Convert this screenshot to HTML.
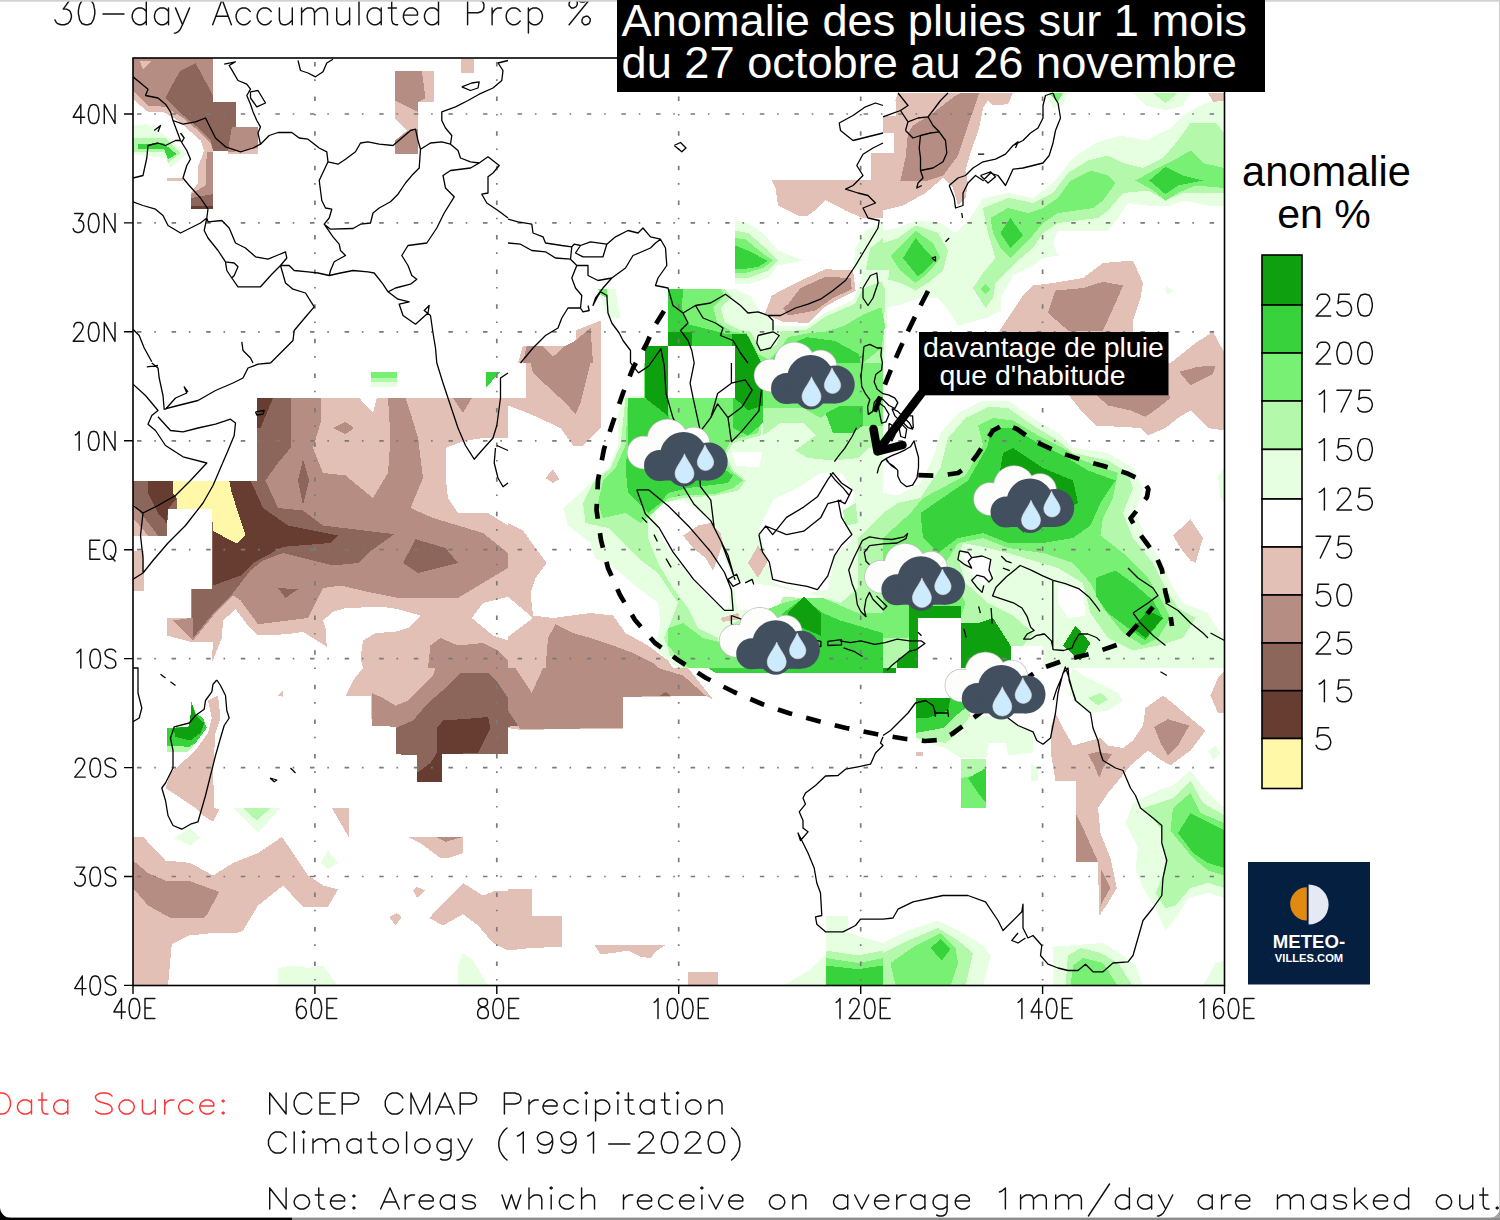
<!DOCTYPE html>
<html>
<head>
<meta charset="utf-8">
<title>Anomalie des pluies</title>
<style>
html,body{margin:0;padding:0;background:#fff;}
body{width:1500px;height:1220px;overflow:hidden;position:relative;font-family:"Liberation Sans",sans-serif;}
svg{position:absolute;left:0;top:0;display:block;}
text{font-family:"Liberation Sans",sans-serif;}
.b1{fill:#e2c0b6;}
.b2{fill:#b68d82;}
.b3{fill:#8c655b;}
.b4{fill:#673d32;}
.yl{fill:#fff8a8;}
.g1{fill:#e6ffe1;}
.g2{fill:#b4f9ab;}
.g3{fill:#78f073;}
.g4{fill:#37d23c;}
.g5{fill:#0fa00f;}
.w{fill:#fff;}
.coast{fill:none;stroke:#000;stroke-width:1.3;stroke-linejoin:round;}
.hs{fill:none;stroke:#111;stroke-width:1.45;stroke-linecap:round;stroke-linejoin:round;}
</style>
</head>
<body>
<svg width="1500" height="1220" viewBox="0 0 1500 1220">
<rect x="0" y="0" width="1500" height="1220" fill="#fff"/>

<defs><clipPath id="fr"><rect x="133" y="58" width="1091.5" height="927.5"/></clipPath></defs>
<!-- SHADING -->
<g id="shade" shape-rendering="crispEdges" clip-path="url(#fr)">
<path class="b1" d="M133 58L213 58L213 101.8L236.2 101.8L236.2 126.8L258 126.8L258 154.2L228 154.2L228 150.5L213 150.5L213 209.2L191 209.2L191 193L198 183L198.5 165.5L204.2 150.5L200.5 140.5L178 120.5L163 111.8L148 111.8L133 99.2Z"/>
<path class="b2" d="M133 58L213 58L213 101.8L236.2 101.8L236.2 126.8L258 126.8L258 148L233 151.8L213 150.5L210.5 143L198 130.5L183 118L165.5 106.8L148 105.5L133 90.5Z"/>
<path class="b1" d="M139.2 60.5L151.8 60.5L143 69.2Z"/>
<path class="b2" d="M206.8 151.8L213 151.8L213 209.2L191 209.2L191 194.2L205.5 185.5Z"/>
<path class="b3" d="M191 198L213 194.2L213 209.2L191 209.2Z"/>
<path class="b4" d="M191 205.5L213 205.5L213 209.2L191 209.2Z"/>
<path class="b3" d="M195.5 63L213 95.5L213 101.8L236.2 101.8L236.2 126.8L231.8 126.8L228 150.5L213 150.5L210.5 140.5L195.5 125.5L180.5 113L165.5 98L170.5 88L180.5 70.5Z"/>
<path class="g1" d="M133 125.5L148 124.2L165.5 135.5L186.8 154.2L170.5 168L165.5 158L133 154.2Z"/>
<path class="g2" d="M133 138L165.5 138L180.5 153L168 163L165.5 151.8L133 151.8Z"/>
<path class="g4" d="M138 144.2L163 143L176.8 154.2L168 159.2L164.2 149.2L138 149.2Z"/>
<path class="b1" d="M166.8 178L183 178L183 181L166.8 181ZM395 70.5L434.2 70.5L434.2 101.8L418 101.8L418 154.2L395 154.2Z"/>
<path class="b2" d="M395 70.5L421.8 70.5L425.5 98L418 101.8L418 111.8L395 100.5Z"/>
<path class="w" d="M395 118L406.8 130.5L395 140.5Z"/>
<path class="b2" d="M410.5 129.2L418 129.2L418 154.2L395 154.2L395 140.5Z"/>
<path class="b1" d="M461 59.2L473.5 59.2L473.5 72.5L461 72.5ZM771.8 180L870.5 180L870.5 153L883 153L883 218L863 218L845.5 210.5L825.5 200L818 208L808 215.5L798 215.5L778 205.5L775.5 188Z"/>
<path class="g1" d="M735 220.5L748 223L763 233L778 250.5L803 260.5L778 265.5L768 278L748 284.2L735 284.2Z"/>
<path class="g2" d="M735 230.5L748 233L765.5 248L778 260.5L768 270.5L748 278L735 278Z"/>
<path class="g3" d="M735 238L745.5 239.2L760.5 251.8L773 260.5L763 268L745.5 273L735 273Z"/>
<path class="g4" d="M735 245.5L748 250.5L768 261L758 266.8L743 269.2L735 269.2Z"/>
<path class="b1" d="M771.8 295.5L795.5 283L825.5 269.2L853 270.5L855.5 290.5L840.5 298L823 308L808 323L783 321.8L768 315.5L763 318L768 305.5Z"/>
<path class="b2" d="M788 304.2L800.5 288L825.5 276.8L850.5 278L851.8 289.2L833 298L815.5 310.5L788 315.5L783 308Z"/>
<path class="b1" d="M523 345.5L575.5 345.5L575.5 330.5L600.5 320.5L600.5 363L518 363Z"/>
<path class="b2" d="M526.8 345.5L541.8 345.5L553 356.8L565.5 345.5L575.5 340.5L590.5 328L593 363L523 363Z"/>
<path class="g1" d="M883 223L865.5 230.5L855.5 248L853 270L883 270Z"/>
<path class="g2" d="M883 238L870.5 248L865.5 270L883 270Z"/>
<path class="g1" d="M596.8 289.2L615.5 289.2L620.5 318L608 318L603 303Z"/>
<path class="g3" d="M598 289.2L606.8 289.2L608 298L601.8 295.5Z"/>
<path class="b1" d="M895.5 100.5L898 93L1013 93L1008 104.2L993 105.5L988 100.5L983 108L979.2 128L970.5 153L965.5 170.5L968 183L965.5 198L958 205.5L953 188L943 178L925.5 193L903 205.5L883 210.5L883 153L894.2 153L894.2 133L883 133L883 116.8L895.5 115.5Z"/>
<path class="b2" d="M913 125.5L933 113L955.5 95.5L960.5 93L979.2 93L965.5 133L958 155.5L943 175.5L928 180.5L900.5 180.5L905.5 158L908 133Z"/>
<path class="b1" d="M998 333L1023 295.5L1033 285.5L1053 283L1083 278L1103 263L1133 260.5L1143 283L1140.5 298L1133 320.5L1133 363L993 363Z"/>
<path class="b2" d="M1055.5 290.5L1083 288L1103 281.8L1123 285.5L1115.5 303L1103 330.5L1068 330.5L1048 313Z"/>
<path class="b1" d="M1170.5 363L1195.5 343L1213 331.8L1224.5 353L1224.5 363ZM1208 93L1224.5 93L1224.5 104.2L1213 101.8Z"/>
<path class="g1" d="M883 230.5L898 228L915.5 220.5L940.5 223L955.5 233L970.5 218L983 198L1008 193L1033 198L1053 183L1073 158L1095.5 143L1120.5 135.5L1145.5 140.5L1170.5 128L1183 115.5L1205.5 103L1224.5 100.5L1224.5 205.5L1208 205.5L1183 200.5L1170.5 205.5L1145.5 205.5L1128 203L1118 218L1108 230.5L1083 230.5L1058 230.5L1053 243L1058 255.5L1043 258L1033 265.5L1013 275.5L1000.5 298L1000.5 310.5L985.5 318L958 325.5L950.5 313L938 298L920.5 298L898 305.5L883 308ZM1133 93L1190.5 93L1183 105.5L1165.5 110.5L1145.5 105.5ZM1045.5 93L1068 93L1063 105.5L1053 108ZM1165.5 285.5L1173 290.5L1166.8 295.5Z"/>
<path class="g2" d="M883 243L898 238L915.5 225.5L938 233L948 250.5L943 270.5L928 283L915.5 290.5L900.5 283L883 278ZM983 208L1008 198L1033 203L1053 193L1068 173L1088 160.5L1108 155.5L1123 163L1143 168L1163 158L1178 140.5L1190.5 123L1215.5 123L1224.5 133L1224.5 193L1203 193L1183 193L1165.5 200.5L1148 190.5L1123 193L1108 210.5L1098 218L1058 223L1043 233L1033 248L1018 260.5L1008 270.5L995.5 283L993 298L985.5 308L973 288L983 273L995.5 258L988 233ZM1153 93L1178 93L1165.5 103Z"/>
<path class="g3" d="M890.5 255.5L915.5 230.5L933 243L940.5 258L928 273L915.5 283L900.5 270.5ZM990.5 218L1008 208L1028 213L1043 208L1058 198L1070.5 180.5L1090.5 170.5L1108 175.5L1115.5 183L1103 200.5L1093 208L1058 213L1043 223L1030.5 238L1010.5 258L1000.5 248L993 233ZM1135.5 180.5L1158 168L1178 158L1190.5 150.5L1203 163L1224.5 168L1224.5 188L1195.5 185.5L1178 193L1165.5 200.5L1153 190.5ZM980.5 289.2L985.5 284.2L990.5 289.2L985.5 294.2ZM1048 93L1063 93L1058 101.8Z"/>
<path class="g4" d="M903 258L915.5 238L928 253L935.5 260.5L918 276.8ZM1000.5 233L1010.5 218L1023 235.5L1010.5 248ZM1149.2 180.5L1165.5 166.8L1183 175.5L1203 180.5L1178 185.5L1165.5 194.2Z"/>
<path class="b1" d="M133 480.5L257.2 480.5L257.2 398L359.2 398L373 413L376.8 398L508 398L508 668L363 668L360.5 658L363 640.5L375.5 633L395.5 631.8L408 628L420.5 615.5L398 609.2L383 606.8L345.5 608L333 611.8L323 620.5L325.5 628L326.8 646.8L303 631.8L288 634.2L258 635.5L248 625.5L235.5 609.2L223 620.5L221.8 638L211.8 663L213 641.8L190.5 641.8L166.8 635.5L166.8 618L190.5 618L190.5 589.2L211.8 589.2L211.8 509.2L168 509.2L166.8 535.5L133 535.5ZM133 550.5L144.2 550.5L144.2 590.5L133 590.5Z"/>
<path class="w" d="M445.5 448L465.5 440.5L483 438L508 438L508 525.5L488 513L458 513L448 498L445.5 475.5ZM508 596.8L483 603L471.8 618L493 635.5L508 640.5Z"/>
<path class="b2" d="M257.2 398L320.5 398L320.5 423L313 448L323 473L345.5 475.5L373 498L388 473L390.5 438L388 398L405.5 398L410.5 413L418 438L423 478L410.5 508L433 518L483 533L508 553L508 568L483 583L458 598L398 598L373 593L340.5 585.5L323 588L308 618L258 624.2L240.5 600.5L233 595.5L215.5 613L193 640.5L173 620.5L190.5 618L190.5 589.2L211.8 589.2L211.8 509.2L168 509.2L166.8 535.5L133 535.5L133 480.5L257.2 480.5ZM428 668L430.5 645.5L440.5 638L458 645.5L483 643L498 650.5L508 660.5L508 668ZM453 398L471.8 398L463 413ZM333 428L345.5 421.8L354.2 428L345.5 434.2Z"/>
<path class="b3" d="M257.2 398L290.5 398L290.5 448L278 463L265.5 480.5L278 508L303 510.5L323 525.5L394.2 534.2L368 553L358 563L333 565.5L313 560.5L283 553L263 560.5L250.5 570.5L233 593L215.5 610.5L193 638L191.8 589.2L211.8 589.2L211.8 509.2L168 509.2L166.8 535.5L133 535.5L133 480.5L257.2 480.5ZM298 480.5L303 459.2L309.2 480.5L303 505.5ZM403 563L415.5 539.2L445.5 548L458 563L418 573ZM278 588L298 589.2L285.5 598Z"/>
<path class="b1" d="M133 518L148 535.5L133 535.5Z"/>
<path class="b2" d="M133 503L158 535.5L148 535.5L133 518Z"/>
<path class="b4" d="M229.2 480.5L250.5 480.5L263 508L288 525.5L338 535.5L330.5 543L283 546.8L253 563L240.5 575.5L213 585.5L213 531L236.8 543.5L245.5 535.5L231.8 493ZM257.2 398L273 398L260.5 428L257.2 428ZM148 480.5L173 480.5L173 493L176.8 498L168 509.2L166.8 523L158 513L148 493Z"/>
<path class="yl" d="M173 480.5L229.2 480.5L231.8 493L245.5 535.5L236.8 543.5L213 531L211.8 509.2L176.8 509.2L176.8 498L173 493Z"/>
<path class="g3" d="M370.5 371.8L396.8 371.8L396.8 377.5L370.5 377.5Z"/>
<path class="g2" d="M370.5 377.5L396.8 377.5L396.8 381.8L370.5 381.8Z"/>
<path class="g1" d="M370.5 381.8L396.8 381.8L396.8 386.8L370.5 386.8Z"/>
<path class="g4" d="M485.5 371.8L500.5 371.8L485.5 388Z"/>
<path class="b1" d="M525.5 363L600.5 363L600.5 428L583 445.5L573 445.5L560.5 428L530.5 414.2L508 405.5L508 398L525.5 398Z"/>
<path class="b2" d="M530.5 363L590.5 363L580.5 403L575.5 414.2L565.5 403L533 373Z"/>
<path class="b1" d="M545.5 478L553 469.2L559.2 479.2L553 483ZM508 523L523 530.5L535.5 548L546.8 563L535.5 578L530.5 593L533 615.5L553 618L590.5 613L613 615.5L625.5 633L648 645.5L668 660.5L673 668L508 668L508 636.8L533 618L508 596.8Z"/>
<path class="b2" d="M545.5 668L548 638L555.5 624.2L573 633L590.5 638L613 645.5L633 653L653 663L658 668Z"/>
<path class="g1" d="M625.5 395.5L618 413L618 445.5L608 468L590.5 483L578 495.5L563 508L568 525.5L590.5 543L595.5 558L618 570.5L638 588L658 603L660.5 623L658 635.5L653 645.5L668 660.5L678 668L883 668L883 363L644.2 363L644.2 395.5Z"/>
<path class="w" d="M654 503.8L683.2 500.2L710.8 521L731.5 576L728 610.2L710.8 600L683.2 569L659.2 534.8ZM759 527.8L772.8 500.2L800.2 486.5L821 472.8L841.5 472.8L855.2 493.2L848.5 521L851.8 541.5L834.8 555.2L827.8 589.8L807 593.2L772.8 582.8L765.8 555.2ZM731.5 579.5L772.8 586.2L821 596.5L827.8 610.2L786.5 607L738.2 610.2ZM731.5 452L762.5 452L759 467.5L736.5 465.8Z"/>
<path class="g2" d="M625.5 398L620.5 445.5L610.5 468L593 483L583 503L585.5 523L608 528L638 558L658 573L678 603L670.5 623L664.2 638L670.5 655.5L683 668L723 668L718 638L698 628L688 608L673 588L658 563L648 538L648 518L663 503L683 498L715.5 495.5L738 490.5L745.5 480.5L733 470.5L725.5 455.5L733 443L760.5 435.5L763 398L763 363L644.2 363L644.2 398ZM763 363L883 363L883 445.5L868 448L858 458L833 460.5L808 458L795.5 450.5L815.5 435.5L803 423L780.5 423L763 435.5ZM723 668L733 623L758 610.5L778 609.2L783 596.8L803 598L823 598L840.5 603L858 588L858 538L883 513L883 668ZM843 510.5L855.5 503L858 523L845.5 525.5Z"/>
<path class="g3" d="M628 398L625.5 445.5L615.5 468L603 480.5L598 503L603 518L625.5 513L640.5 523L658 508L668 498L683 495.5L715.5 494.2L733 488L743 480.5L730.5 470.5L723 455.5L730.5 440.5L758 433L763 413L763 363L644.2 363L644.2 398ZM763 363L883 363L883 425.5L863 425.5L863 405.5L840.5 405.5L820.5 418L803 408L763 408ZM668 628L683 623L703 638L723 643L733 633L758 613L783 603L803 598L823 598L840.5 605.5L858 613L883 613L883 668L688 668L668 645.5Z"/>
<path class="g4" d="M628 398L628 445.5L625.5 468L628 493L648 513L660.5 503L668 493L688 488L728 483L733 475.5L723 468L708 458L683 445.5L673 428L668 413L644.2 398ZM733 395.5L763 405.5L763 423L748 435.5L733 428ZM825.5 413L840.5 405.5L863 405.5L863 425.5L853 433L833 433ZM783 613L803 598L823 613L840.5 620.5L883 633L883 668L758 668Z"/>
<path class="g5" d="M645.2 363L667.5 363L667.5 415.5L645.2 398ZM734.8 363L763 363L763 405.5L748 410.5L734.8 398ZM788 613L804.2 596.8L820.5 613L820.5 635.5L803 628L788 633Z"/>
<path class="w" d="M667.5 363L734.8 363L734.8 398L667.5 398Z"/>
<path class="b1" d="M683 535.5L698 525.5L710.5 523L720.5 533L723 543L718 558L713 570.5L705.5 558L693 548ZM748 563L758 545.5L768 560.5L758 578ZM720.5 618L738 613L740.5 619.2L723 621.8ZM1068 394.2L1083 413L1095.5 425.5L1140.5 428L1148 435.5L1165.5 428L1178 418L1190.5 410.5L1208 428L1224.5 430.5L1224.5 363L993 363L993 394.2Z"/>
<path class="b2" d="M1095.5 394.2L1108 405.5L1130.5 410.5L1145.5 416.8L1158 408L1170.5 398L1168 394.2ZM1179.2 371.8L1198 366.8L1215.5 365.5L1213 374.2L1190.5 385.5Z"/>
<path class="b1" d="M1173 535.5L1190.5 519.2L1203 538L1195.5 563L1190.5 560.5L1180.5 548Z"/>
<path class="g1" d="M883 493L898 495.5L920.5 483L933 458L940.5 433L958 413L983 400.5L1008 400.5L1033 418L1058 433L1073 448L1108 453L1133 468L1143 488L1135.5 513L1145.5 538L1163 563L1170.5 583L1183 603L1208 613L1215.5 625.5L1224.5 638L1224.5 668L883 668ZM1218 475.5L1224.5 468L1224.5 503L1220.5 498Z"/>
<path class="w" d="M960.5 553L988 558L993 575.5L983 585.5L970.5 573ZM1058 585.5L1083 588L1085.5 615.5L1068 618L1058 603Z"/>
<path class="g2" d="M898 503L920.5 498L940.5 468L948 438L965.5 418L988 406.8L1008 408L1033 425.5L1058 440.5L1073 453L1108 460.5L1128 473L1133 488L1123 513L1133 538L1153 563L1165.5 588L1178 608L1195.5 618L1183 638L1158 645.5L1133 650.5L1108 638L1090.5 613L1083 583L1058 568L1033 560.5L1008 553L988 548L963 543L958 558L965.5 583L988 603L1013 615.5L1033 633L1023 645.5L1010.5 645.5L1010.5 668L883 668L883 513Z"/>
<path class="g3" d="M910.5 513L923 498L965.5 475.5L983 445.5L978 425.5L993 418L1013 420.5L1038 435.5L1063 448L1083 460.5L1118 473L1113 498L1103 518L1100.5 535.5L1123 553L1148 578L1163 603L1170.5 618L1158 638L1143 645.5L1123 633L1103 608L1090.5 583L1073 563L1043 553L1008 548L983 538L958 543L945.5 563L958 588L965.5 603L960.5 618L918 618L908 638L883 638L883 538Z"/>
<path class="g4" d="M920.5 513L968 480.5L988 445.5L990.5 428L1013 428L1038 443L1063 455.5L1088 470.5L1115.5 480.5L1100.5 503L1090.5 525.5L1073 538L1043 543L1008 543L983 533L958 538L938 553L923 538ZM1095.5 578L1115.5 570.5L1133 583L1153 600.5L1163 618L1145.5 640.5L1128 628L1108 613L1095.5 595.5Z"/>
<path class="g5" d="M909.2 606.2L961.2 606.2L961.2 617.5L918 617.5L918 668L897 668L897 661.8L909.2 651.2ZM1003 453L1013 448L1043 468L1073 480.5L1078 503L1058 513L1023 533L1003 513L998 483ZM960.5 623L978 623L993 618L1010.5 645.5L1010.5 668L960.5 668ZM1063 645.5L1075.5 625.5L1090.5 643L1080.5 660.5ZM1133 628L1148 610.5L1163 618L1145.5 638Z"/>
<path class="w" d="M918 618L960.5 618L960.5 668L918 668ZM1010.5 645.5L1043 645.5L1043 668L1010.5 668Z"/>
<path class="b1" d="M363 668L353 680.5L345.5 695.5L370.5 695.5L371.8 725.5L395.5 726.8L395.5 754.2L416.8 755.5L416.8 781.8L441.8 781.8L441.8 754.2L508 754.2L508 668Z"/>
<path class="b2" d="M371.8 693L383 698L395.5 705.5L408 700.5L433 675.5L435.5 668L508 668L508 754.2L441.8 754.2L441.8 781.8L416.8 781.8L416.8 755.5L395.5 754.2L395.5 726.8L371.8 725.5Z"/>
<path class="b3" d="M395.5 728L413 720.5L428 703L445.5 688L460.5 673L488 673L498 683L508 698L508 754.2L441.8 754.2L441.8 781.8L416.8 781.8L416.8 755.5L395.5 754.2Z"/>
<path class="b4" d="M436.8 728L443 720.5L478 718L488 716.8L490.5 728L478 753L441.8 754.2L441.8 781.8L416.8 781.8L416.8 773L430.5 763L436.8 753Z"/>
<path class="b1" d="M208 700.5L218 695.5L220.5 718L215.5 733L213 768L214.2 808L219.2 809.2L213 821.8L203 815.5L195.5 808L165.5 788L170.5 773L195.5 750.5L208 733L211.8 718Z"/>
<path class="g2" d="M166.8 728L188 726.8L191.8 718L190.5 699.2L195.5 713L203 718L206.8 728L195.5 743L188 751.8L166.8 751.8Z"/>
<path class="g4" d="M166.8 728L188 726.8L191.8 718L190.5 699.2L195.5 713L203 718L206.8 728L195.5 743L189.2 746.8L166.8 745.5Z"/>
<path class="g5" d="M191.8 703L195.5 715.5L204.2 723L200.5 733L190.5 740.5L175.5 736.8L173 728L189.2 726.8Z"/>
<path class="g1" d="M233 808L280.5 808L258 833Z"/>
<path class="g2" d="M243 808L270.5 808L256.8 820.5Z"/>
<path class="g1" d="M174.2 838L190.5 828L200.5 838L190.5 845.5ZM320.5 863L328 850.5L338 863L328 869.2Z"/>
<path class="b1" d="M331.8 808L349.2 808L349.2 838ZM278 695.5L283 690.5L283 696.8ZM408 836.8L463 836.8L463 853L448 858L440.5 858L420.5 843Z"/>
<path class="b2" d="M435.5 836.8L463 836.8L445.5 841.8Z"/>
<path class="b1" d="M133 836.8L143 836.8L165.5 860.5L190.5 863L213 875.5L233 863L258 853L273 843L281.8 836.8L293 853L308 875.5L323 885.5L338 889.2L328 906.8L303 906.8L283 885.5L258 905.5L243 930.5L236.8 933L213 933L189.2 935.5L171.8 944.2L168 986L133 986Z"/>
<path class="b2" d="M133 860.5L148 873L165.5 880.5L188 880.5L219.2 891.8L208 913L203 918L170.5 918L148 905.5L133 888Z"/>
<path class="b1" d="M429.2 918L448 898L463 883L483 895.5L495.5 890.5L508 890.5L508 950.5L493 943L478 925.5L463 914.2L443 925.5ZM413 890.5L416.8 886.8L425.5 890.5L416.8 898ZM389.2 916.8L396.8 913L401.8 916.8L395.5 925.5Z"/>
<path class="g1" d="M278 968L293 965.5L308 968L323 965.5L338 986L278 986ZM458 965.5L463 953L473 960.5L488 986L458 986Z"/>
<path class="b1" d="M658 668L688 668L713 699.2L705.5 696L623 697.2L623 728.5L520.5 729.8L508 728L508 668Z"/>
<path class="b2" d="M508 668L658 668L683 675.5L705.5 695.5L623 696.8L623 728L520.5 729.2L508 710.5Z"/>
<path class="b1" d="M515.5 668L543 668L531.8 693Z"/>
<path class="b3" d="M508 710.5L518 725.5L508 726.8ZM660.5 695.5L665.5 691.8L670.5 696Z"/>
<path class="b1" d="M508 889.2L531.8 889.2L531.8 915.5L561.8 915.5L561.8 946.8L530.5 948L508 950.5ZM594.2 945L665.5 945L655.5 951.8L650.5 958L640.5 956.8L628 950.5L613 953L600.5 954.2ZM688 971.5L718 971.5L718 986L688 986Z"/>
<path class="g4" d="M708 668L883 668L883 673L715.5 673Z"/>
<path class="g1" d="M825.5 915.5L848 915.5L848 933L883 943L883 986L783 986L808 971L825.5 955.5Z"/>
<path class="g2" d="M825.5 950.5L858 955.5L883 950.5L883 986L825.5 986Z"/>
<path class="g3" d="M825.5 958L858 963L883 958L883 986L825.5 986Z"/>
<path class="g4" d="M825.5 965.5L858 969.2L883 965.5L883 986L825.5 986Z"/>
<path class="b1" d="M1055.5 713L1063 728L1073 745.5L1090.5 740.5L1100.5 738L1108 745.5L1123 748L1133 740.5L1143 725.5L1145.5 708L1163 695.5L1175.5 705.5L1190.5 718L1205.5 730.5L1190.5 750.5L1170.5 765.5L1158 758L1148 750.5L1130.5 765.5L1120.5 778L1108 793L1098 808L1100.5 833L1110.5 858L1116.8 888L1108 903L1099.2 915.5L1098 861.8L1075.5 861.8L1075.5 780.5L1055.5 780.5L1050.5 750.5L1050.5 728Z"/>
<path class="b2" d="M1154.2 726.8L1168 719.2L1189.2 725.5L1178 745.5L1168 755.5L1160.5 743ZM1088 754.2L1098 751.8L1111.8 754.2L1103 768L1099.2 778L1094.2 765.5ZM1075.5 813L1083 828L1098 861.8L1075.5 861.8ZM1100.5 868L1110.5 888L1100.5 905.5Z"/>
<path class="b1" d="M1224.5 670.5L1218 678L1210.5 695.5L1218 713L1224.5 713ZM915.5 751.8L923 751.8L923 755.5L915.5 755.5Z"/>
<path class="g1" d="M915.5 733L958 733L970.5 715.5L1003 715.5L1033 733L1033 753L1008 755.5L1005.5 743L988 743L986.8 758L960.5 758L945.5 748L915.5 740.5Z"/>
<path class="g2" d="M915.5 698L968 698L970.5 715.5L958 733L945.5 743L915.5 738Z"/>
<path class="g4" d="M915.5 698L965.5 698L965.5 708L953 718L943 728L915.5 733Z"/>
<path class="g5" d="M915.5 698L950.5 698L948 710.5L928 718L915.5 718ZM883 668L895.5 668L895.5 673L883 673Z"/>
<path class="g3" d="M961 759.2L986.2 759.2L986.2 808L961 808Z"/>
<path class="g2" d="M961 759.2L986.2 759.2L986.2 773L961 778Z"/>
<path class="g4" d="M968 778L986.2 768L986.2 803L978 793Z"/>
<path class="g1" d="M1030.5 763L1038 768L1038 780.5L1030.5 781.8ZM1073 668L1083 675.5L1098 683L1118 693L1123 700.5L1108 710.5L1090.5 713L1078 703L1070.5 695.5L1069.2 678Z"/>
<path class="g2" d="M1088 698L1100.5 693L1108 699.2L1098 705.5Z"/>
<path class="g1" d="M1208 750.5L1215.5 745.5L1220.5 753L1213 760.5ZM1125.5 823L1133 803L1158 790.5L1173 785.5L1190.5 770.5L1205.5 790.5L1224.5 808L1224.5 898L1208 893L1188 898L1178 915.5L1165.5 930.5L1155.5 908L1143 888L1135.5 868L1138 848Z"/>
<path class="g2" d="M1143 808L1158 803L1173 798L1190.5 780.5L1203 803L1224.5 815.5L1224.5 888L1208 883L1190.5 888L1175.5 905.5L1165.5 908L1155.5 893L1163 875.5L1165.5 858L1160.5 828Z"/>
<path class="g3" d="M1173 808L1190.5 793L1200.5 813L1224.5 823L1224.5 875.5L1208 870.5L1193 858L1180.5 843L1170.5 830.5Z"/>
<path class="g4" d="M1178 833L1190.5 813L1224.5 830.5L1224.5 868L1208 863L1193 853Z"/>
<path class="g1" d="M883 943L908 930.5L938 920.5L963 933L983 945.5L990.5 955.5L983 986L883 986Z"/>
<path class="g2" d="M883 953L908 940.5L938 928L958 940.5L973 953L965.5 986L883 986Z"/>
<path class="g3" d="M890.5 963L915.5 945.5L940.5 933L955.5 948L958 963L950.5 986L895.5 986Z"/>
<path class="g4" d="M930.5 948L940.5 939.2L950.5 949.2L941.8 960.5Z"/>
<path class="g1" d="M1053 946.8L1103 943L1123 955.5L1135.5 965.5L1143 986L1053 986Z"/>
<path class="g2" d="M1068 955.5L1080.5 948L1100.5 953L1118 963L1133 986L1065.5 986Z"/>
<path class="g3" d="M1073 965.5L1083 958L1103 963L1118 986L1070.5 986Z"/>
<path class="g1" d="M1203 986L1215.5 963L1224.5 960.5L1224.5 986ZM667.6 288.7L734.8 288.7L750.7 296.1L761.9 314.8L769.3 316.7L774.9 326L806.7 326L825.3 312.9L853.3 299.9L860.8 281.2L862.7 270L888.8 270L885.1 363.3L667.6 363.3Z"/>
<path class="g2" d="M667.6 288.7L724.5 288.7L732 296.1L720.8 307.3L724.5 322.3L739.5 329.7L750.7 331.6L761.9 352.1L776.8 344.7L780.5 331.6L806.7 329.7L825.3 316.7L855.2 303.6L862.7 288.7L881.3 281.2L885.1 288.7L883.2 363.3L667.6 363.3Z"/>
<path class="g3" d="M667.6 288.7L720.8 288.7L724.5 296.1L713.3 307.3L717.1 322.3L732 331.6L746.9 333.5L758.1 354L769.3 359.6L780.5 348.4L788 337.2L806.7 333.5L825.3 331.6L844 326L862.7 314.8L881.3 307.3L885.1 326L881.3 348.4L862.7 363.3L667.6 363.3Z"/>
<path class="g4" d="M667.6 288.7L683.5 288.7L681.6 307.3L687.2 324.1L709.6 329.7L724.5 333.5L743.2 334.4L754.4 348.4L761.9 363.3L667.6 363.3ZM780.5 348.4L806.7 337.2L834.7 340.9L858.9 354L860.8 363.3L769.3 363.3Z"/>
<path class="g5" d="M645.2 345.6L667.6 345.6L667.6 331.6L691.9 331.6L691.9 345.6L667.6 345.6L667.6 363.3L645.2 363.3ZM732 333.5L746.9 334.4L754.4 348.4L761.9 363.3L734.8 363.3L734.8 345.6L732 345.6Z"/>
<path class="w" d="M667.6 345.6L734.8 345.6L734.8 363.3L667.6 363.3Z"/>
</g>

<!-- GRID -->
<g id="grid" stroke="#7a7a7a" stroke-width="1.7" stroke-dasharray="4.5 12.8 1.6 15.7" stroke-dashoffset="-4" fill="none">
<path d="M133 114H1224M133 222.9H1224M133 331.8H1224M133 440.8H1224M133 549.7H1224M133 658.6H1224M133 767.6H1224M133 876.5H1224"/>
<path d="M314.9 58V985M496.8 58V985M678.7 58V985M860.7 58V985M1042.6 58V985"/>
</g>

<!-- COAST -->
<g id="coast" class="coast" clip-path="url(#fr)">
<path d="M224.2 64.2L235.5 61.8L229.2 65.5L233 71.8L238 80.5L246.8 84.2L250.5 89.2L246.8 95.5L250.5 104.2L253 111.8L256.8 120.5L260.5 126.8L258 133L260.5 144.2M250.5 91.8L258 90.5L265.5 103L256.8 106.8L250.5 98L250.5 91.8M133 76.8L140.5 83L148 89.2L145.5 95.5L158 98L165.5 104.2L170.5 111.8L173 120.5L183 124.2L195.5 121.8L205.5 118L210.5 128L215.5 138L225.5 146.8L240.5 151.8L253 148L260.5 144.2L269.2 135.5L278 132.5L291.8 132.5L299.2 138L308 139.2L319.2 148L326.8 151.8L328 161.8L338 164.2L345.5 159.2L355.5 151.8L360.5 143L368 141.8L379.2 144.2L393 145.5L401.8 138L410.5 130.5L415.5 129.2L418 140.5L420.5 149.2L430.5 143L441.8 141.8L450.5 144.2L451.8 135.5L445.5 128L441.8 120.5L441.8 111.8L455.5 106.8L468 100.5L479.2 94.2L493 88L501.8 80.5L503 70.5L498 63L508 60.5M461.8 86.8L471.8 83L479.2 81.8L478 88L470.5 90.5L461.8 86.8M298 60.5L300.5 70.5L308 73L315.5 76.8L323 71.8L326.8 63L333 59.2M328 161.8L319.2 180.5L321.8 200.5L325.5 208L331.8 209.2L329.2 218L324.2 224.2L333 236.8L339.2 244.2L340.5 250.5L345.5 255.5L334.2 261.8L330.5 270.5L329.2 275.5M324.2 224.2L330.5 229.2L353 228.5L360.5 224.2L370.5 223L373 213L379.2 208L390.5 201.8L398 194.2L405.5 183L413 174.2L419.2 168L420.5 149.2M450.5 144.2L458 150.5L460.5 158L470.5 161.8L479.2 163L488 156.8L499.2 165.5L493 173L488 176.8L488 193L481.8 194.2L486.8 203L498 210.5L508 218M479.2 163L470.5 168L450.5 170.5L443 175.5L445.5 188L454.2 196.8L444.2 213L436.8 228L426.8 243L408 245.5L401.8 255.5L408 265.5L411.8 275.5L416.8 279.2L410.5 284.2L395.5 288L388 291.8M208 209.2L206.8 218L208 221.8L221.8 220.5L229.2 228L235.5 243L245.5 248L255.5 256.8L268 259.2L276.8 255.5L285.5 251.8L286.8 258L280.5 265.5L289.2 265.5L294.2 270.5L308 271.8L318 273L329.2 275.5L340.5 273L353 270.5L368 271.8L374.2 273L383 284.2L388 291.8L398 299.2L409.2 301.8L399.2 304.2L403 315.5L415.5 324.2L428 313L429.2 305.5L424.2 310.5L430.5 315.5L433 333L435.5 348L436.8 363M206.8 218L204.2 230.5L208 238L218 250.5L225.5 261.8L226.8 270.5L231.8 278L238 286.8L260.5 286.8L271.8 274.2L280.5 265.5L285.5 283L293 289.2L305.5 293L314.2 306.8L306.8 315.5L300.5 323L294.2 330.5L293 340.5L285.5 348L275.5 358L270.5 363M225.5 261.8L234.2 263L238 266.8L234.2 275.5L231.8 278M208 209.2L200.5 198L189.2 185.5L183 178L186.8 165.5L190.5 159.2L186.8 150.5L180.5 140.5L173 120.5M133 201.8L143 205.5L155.5 209.2L163 215.5L168 225.5L180.5 233L200.5 223L206.8 218M133 329.2L139.2 335.5L144.2 348L151.8 361.8M241.8 341.8L243 350.5L250.5 358L253 363M133 178L143 175.5L146.8 158L148 145.5L158 143L165.5 145.5L175.5 140.5L180.5 140.5M154.2 130.5L160.5 125.5L158 131.8M180.5 133L184.2 138L181.8 141.8M508 219.2L518 221.8L531.8 224.2L533 233L543 236.8L545.5 243L561.8 245.5L571.8 246.8L574.2 244.2L580.5 245.5L590.5 241.8L606.8 244.2L615.5 236.8L628 230.5L638 233L643 228L650.5 236.8L660.5 239.2L665.5 248L666.8 265.5L658 278L655.5 285.5L668 288L673 305.5L683 313L688 323L680.5 330.5L688 340.5L691.8 350.5L694.2 363M508 243L520.5 244.2L531.8 250.5L545.5 251.8L555.5 258L570.5 259.2L571.8 246.8M580.5 245.5L575.5 253L583 256.8L603 256.8L606.8 244.2M570.5 259.2L576.8 265.5L571.8 278L575.5 288L581.8 295.5L580.5 308L568 308L561.8 318L558 328L545.5 335.5L533 348L520.5 363M576.8 265.5L588 265.5L588 275.5L598 280.5L611.8 278L603 288L595.5 298L593 305.5L596.8 298L600.5 291.8L606.8 295.5L608 313L611.8 323L619.2 333L623 340.5L630.5 350.5L630.5 363M580.5 308L583 311.8L589.2 310.5L588 305.5M611.8 278L625.5 268L633 255.5L650.5 248L655.5 243L660.5 239.2M683 313L695.5 305.5L710.5 303L725.5 294.2L740.5 305.5L748 313L758 311.8L768 315.5L780.5 315.5L795.5 308L808 304.2L820.5 299.2L833 290.5L845.5 280.5L855.5 265.5L863 253L870.5 240.5L878 228L879.2 220.5L868 218L863 208L875.5 203L868 195.5L858 193L845.5 189.2L853 185.5L863 175.5L856.8 165.5L863 154.2L873 148L883 143M695.5 305.5L703 318L715.5 323L723 328L720.5 335.5L733 340.5L740.5 353L748 363M758 335.5L773 331.8L779.2 335.5L770.5 348L760.5 350.5L756.8 343L758 335.5M768 315.5L773 320.5L773 330.5M883 105.5L875.5 103L865.5 106.8L853 115.5L839.2 123L840.5 130.5L853 140.5L863 138L873 135.5L883 133M863 288L870.5 275.5L876.8 273L878 283L873 298L868 305.5L863 298L863 288M674.2 145.5L680.5 142.5L686 148L681.8 151.8L674.2 145.5M905.5 130.5L908 121.8L918 118L928 116.8L933 110.5L940.5 100.5L948 93M905.5 130.5L913 138L920.5 135.5L919.2 148L920.5 158L920.5 170.5L923 178L918 183L916.8 188L921.8 185.5M920.5 170.5L933 168L943 161.8L946.8 153L945.5 140.5L939.2 131.8L933 125.5L928 116.8M920.5 135.5L930.5 133L939.2 131.8M883 116.8L890.5 114.2L900.5 110.5L908 121.8M898 93L908 105.5L900.5 110.5M949.2 185.5L958 178L965.5 175.5L973 168L983 161.8L995.5 159.2L1005.5 154.2L1013 145.5L1023 140.5L1030.5 133L1038 128L1043 118L1043 105.5L1045.5 95.5L1053 93M1058 103L1060.5 118L1055.5 130.5L1053 143L1049.2 155.5L1043 163L1033 165.5L1023 168L1013 169.2L1005.5 185.5L998 175.5L990.5 173L983 180.5L975.5 175.5L968 183L963 193L963 205.5L955.5 208L954.2 198L949.2 185.5M980.5 175.5L990.5 171.8L995.5 176.8L988 183L980.5 175.5M1053 93L1055.5 99.2L1058 103M945.5 241.8L949.2 238M931.8 258L935.5 256.8L935.5 261L931.8 258M961.8 213L962.5 218M978 154.2L984.2 154.2M1013 145.5L1018 141.8L1015.5 148M151.8 363L158 368L159.2 378L163 395.5L164.2 409.2L178 405.5L198 400.5L215.5 390.5L233 383L243 378L248 368L258 364.2L270.5 363M133 384.2L145.5 395.5L158 410.5L151.8 415.5L148 424.2L155.5 430.5L165.5 445.5L183 456.8L206.8 463L190.5 480.5L175.5 495.5L158 505.5L143 513L133 505.5M158 416.8L170.5 430.5L183 431.8L198 428L215.5 424.2L230.5 419.2L235.5 423L234.2 435.5L228 450.5L220.5 468L213 485.5L203 503L185.5 525.5L168 543L153 560.5L143 573L133 579.2M143 513L140.5 535.5L143 558L143 573M165.5 409.2L175.5 398L186.8 393L184.2 386.8L188 391.8M255.5 411.8L264.2 410.5L263 414.2L256.8 415L255.5 411.8M146.8 366.8L158 365.5M436.8 363L443 383L450.5 405.5L458 428L465.5 445.5L474.2 459.2L481.8 450.5L493 438L496.8 425.5L500.5 398L500.5 378L508 373M496.8 445.5L508 450.5M495.5 448L494.2 463L498 478L503 486.8L508 483M1133 613L1148 603L1158 595.5L1153 588L1138 578L1128 568M1133 613L1140.5 623L1153 635.5L1165.5 645.5M1165.5 603L1178 610.5L1190.5 623L1203 633L1208 638M1210.5 633L1224.5 640.5M216.8 680L220.5 685.5L225.5 695.5L226.8 710.5L229.2 718L224.2 725.5L220.5 738L215.5 755.5L210.5 775.5L205.5 795.5L200.5 813L198 821.8L190.5 824.2L181.8 829.2L173 825.5L168 815.5L165.5 800.5L161.8 788L165.5 783L173 768L173 750.5L170.5 738L174.2 726.8L189.2 723L195.5 715.5L204.2 709.2L205.5 700.5L211.8 691.8L213 684.2L216.8 680M133 668L138 668L138 693L141.8 708L139.2 718L133 721.8M160.5 674.2L165.5 678M170.5 681.8L175.5 685.5M270 778L276.8 780L274.2 781.8L270 778M290.5 768L295.5 773M883 736.8L880.5 743L883 745.5L875.5 753L870.5 764.2L858 766.8L845.5 769.2L838 775.5L825.5 776L815.5 785.5L805.5 793L803 798L805.5 804.2L799.2 811.8L803 820.5L803 828L808 831.8L800.5 840.5L798 833L801.8 840.5L808 853L814.2 868L816.8 883L820.5 893L821.8 915.5L815.5 916.8L816.8 924.2L825.5 931.8L843 931.8L855.5 925.5L860.5 919.2L883 919.2M1000.5 710.5L1008 718L1018 725.5L1033 731.8L1036.8 740.5L1043 744.2L1050.5 738L1055.5 713L1058 693L1063 673L1068 668L1069.2 680.5L1075.5 700.5L1083 706.8L1090.5 713L1093 728L1098 740.5L1100.5 753L1103 760.5L1115.5 768L1123 770.5L1130.5 788L1135.5 795.5L1140.5 808L1153 818L1161.8 825.5L1161.8 843L1166.8 860.5L1163 878L1161.8 895.5L1153 908L1143 920.5L1138 938L1133 955.5L1128 961.8L1113 963L1103 971.8L1093 971.8L1085.5 964.2L1078 970.5L1068 970.5L1058 968L1048 964.2L1040.5 955.5L1041.8 945.5L1033 935.5L1028 938L1023 928L1023 904.2L1021.8 911.8L1003 930.5L998 920.5L985.5 901.8L968 895.5L943 895.5L913 901.8L898 909.2L893 918L883 919.2M883 735.5L890.5 730.5L898 723L908 713L915.5 703L925.5 700.5L933 705.5L935.5 713L948 713M934.2 709.2L935.5 716.8M947.5 709.2L948.5 716.8M1018 933L1011.8 940.5L1018 943L1025.5 938M1160.5 671.8L1166.8 675.5M630.6 362.9L638.5 372.9L648.8 366L660.9 348.8L664.3 366L666 393.6L672.9 417.6L679.8 431.4L683.2 458.9L683.2 486.5L693.6 503.7L710.8 520.9L721.1 541.5L731.4 569.1L734.9 579.4L728 555.3L714.2 527.8L710.8 500.2L700.4 486.5L698.7 458.9L700.4 431.4L710.8 417.6L717.6 403.9L728 417.6L731.4 441.7L741.7 431.4L758.9 410.8L762.4 383.2L758.9 366M694.2 362.9L690.1 383.2L693.6 400.4L700.4 431.4M731.4 362.9L731.4 383.2L717.6 393.6L710.8 417.6M731.4 383.2L745.2 379.8L752.1 390.1L741.7 407.3L728 417.6M636.8 489.9L648.8 489.9L669.5 507.1L690.1 527.8L710.8 551.9L724.5 572.5L731.4 589.7L733.1 610.4L724.5 610.4L710.8 596.6L693.6 579.4L672.9 551.9L659.1 527.8L645.4 514L636.8 489.9M654 534.6L657.4 541.5M666 558.7L671.2 567.3M641.9 517.4L647.1 522.6M758.9 534.6L765.8 526L772.7 534.6L786.5 517.4L803.7 507.1L817.4 496.8L827.8 479.6L832.9 472.7L841.5 483L851.9 489.9L845 503.7L838.1 500.2L841.5 517.4L851.9 534.6L841.5 545L834.6 555.3L827.8 575.9L817.4 589.7L807.1 586.3L786.5 582.8L772.7 579.4L769.3 562.2L762.4 551.9L758.9 534.6M765.8 526L786.5 534.6L803.7 531.2L820.9 517.4L827.8 503.7L841.5 500.2M731.4 615.5L745.2 620.7L765.8 624.1L786.5 631L803.7 637.9L820.9 641.3L820.9 646.5L800.2 644.8L772.7 637.9L745.2 631L731.4 624.1L731.4 615.5M827.8 641.3L841.5 639.6L841.5 644.8L827.8 645.5L827.8 641.3M728 579.4L736.6 574.2L740 582.8L733.1 586.3L728 579.4M745.2 582.8L752.1 579.4L753.8 584.5M863.9 346.5L869.8 344.3L877.2 348L881.6 348L880.9 355.4L882.4 362.8L881.6 370.1L875.7 374.6L874.2 381.9L877.2 389.3L883.1 393.7L889 395.2L894.9 398.2L897.8 402.6L894.9 408.5L889 405.5L883.1 399.6L878.7 396.7L874.2 402.6L872.8 411.4L868.3 414.4L867.6 407L869.8 399.6L865.4 393.7L861.7 386.4L861 376L862.4 364.2L863.2 353.9L863.9 346.5M878.7 402.6L884.6 407L889 414.4L886 421.8L881.6 423.2L880.1 415.9L878.7 408.5L878.7 402.6M891.9 408.5L897.8 411.4L903.7 417.3L909.6 423.2L912.6 429.1L908.2 427.7L903.7 423.2L899.3 420.3L894.9 415.9L891.9 408.5M900.8 423.2L906.7 429.1L905.2 438L900.8 436.5L899.3 429.1L900.8 423.2M889 423.2L893.4 426.2L894.9 435L891.9 440.9L889 433.6L889 423.2M909.6 415.9L912.6 415.9L913.3 427.7L910.4 428.4M886 458.6L891.9 455.7L899.3 452.7L905.2 449.8L910.4 446.8L914.1 440.9L915.5 446.8L918.5 457.2L918.5 467.5L917 477.8L912.6 485.2L906.7 486.7L900.8 482.2L897.8 476.3L897.8 470.4L893.4 466L889 463.1L886 458.6L881.6 461.6L878.7 467.5L877.2 473.4M834.4 461.6L838.8 455.7L844.7 448.3L852.1 436.5L856.5 427.7M830 473.4L835.9 480.8L843.3 488.1L849.2 495.5M886 460.1L891.9 466L896.4 469M876.4 595.9L881.6 601.1L886.8 606.3L883.3 609.7L878.1 604.5L872.9 599.3L869.5 592.4L866 599.3L864.3 609.7L866 616.7L860.8 611.5L857.3 604.5L855.6 592.4L852.1 583.7L848.7 569.9L853.9 557.7L859.1 547.3L862.5 540.4L869.5 536.9L879.9 538.7L892 539.5L904.1 536.9L907.6 533.5L905.9 538.7L897.2 543L883.3 543.9L869.5 545.6L864.3 552.5L866 561.2L874.7 569.9M959.6 550.8L968.2 552.5L971.7 557.7L982.1 556L990.8 559.5L989 569.9L992.5 578.5L989 582L983.8 576.8L976.9 575.1L971.7 580.3L976.9 587.2L982.1 592.4L983.8 585.5M959.6 550.8L957.9 559.5L964.8 564.7L971.7 568.1L968.2 561.2L971.7 557.7M1001.2 556L1006.4 561.2L1011.6 562.9M1002.9 568.1L1009.8 570.7M978.6 606.3L980.4 613.2M991.1 608L992.2 623.6M963.9 628.8L966.2 637.5M918 632.3L921.5 635.7M996 587.2L1006.4 576.8L1020.2 565.5L1030.6 569.9L1042.8 575.9L1053.2 580.3L1065.3 583.7L1079.2 588.9L1089.6 597.6L1096.5 606.3L1100 611.5M996 587.2L992.5 595.9L1002.9 599.3L1013.3 602.8L1022 608L1027.2 616.7L1030.6 627.1L1034.1 630.5L1027.2 634L1023.7 639.2L1030.6 639.2L1035.8 635.7L1044.5 634L1051.4 640.9L1053.2 649.6L1063.6 650.5L1072.2 647.9L1074 642.7L1079.2 634L1087.8 634L1096.5 637.5L1100 640.9M1052.8 580.3L1052.8 649.6M840 640.9L850.4 642.7L860.8 640.9L874.7 644.4L885.1 642.7L897.2 639.2L909.3 640.9L921.5 640.9L924.9 643.5L916.3 649.6L909.3 651.3L900.7 658.2L892 665.2L886.8 670.4M843.5 647.9L853.9 651.3L862.5 656.5M1053.2 700L1056.6 689.4L1061.8 677.3L1065.3 666.9L1068.8 677.3L1072.2 689.4L1075.7 700"/>
</g>

<!-- FRAME -->
<rect x="133" y="58" width="1091.5" height="927.5" fill="none" stroke="#000" stroke-width="1.6"/>
<g stroke="#000" stroke-width="1.4">
<path d="M124 114H133M124 222.9H133M124 331.8H133M124 440.8H133M124 549.7H133M124 658.6H133M124 767.6H133M124 876.5H133M124 985.4H133"/>
<path d="M133 985V994M314.9 985V994M496.8 985V994M678.7 985V994M860.7 985V994M1042.6 985V994M1224.5 985V994"/>
</g>

<!-- LEGEND -->
<g id="legend" stroke="#000" stroke-width="1.6">
<rect x="1262" y="255" width="40" height="50" fill="#0fa00f"/>
<rect x="1262" y="305" width="40" height="48" fill="#37d23c"/>
<rect x="1262" y="353" width="40" height="48" fill="#78f073"/>
<rect x="1262" y="401" width="40" height="48.4" fill="#b4f9ab"/>
<rect x="1262" y="449.4" width="40" height="49.6" fill="#e6ffe1"/>
<rect x="1262" y="499" width="40" height="48" fill="#fff"/>
<rect x="1262" y="547" width="40" height="48" fill="#e2c0b6"/>
<rect x="1262" y="595" width="40" height="48" fill="#b68d82"/>
<rect x="1262" y="643" width="40" height="47.7" fill="#8c655b"/>
<rect x="1262" y="690.7" width="40" height="47.8" fill="#673d32"/>
<rect x="1262" y="738.5" width="40" height="50" fill="#fff8a8"/>
</g>

<!-- OVERLAYS -->
<g id="overlay">
<defs>
<g id="ic">
<g fill="#bdbdbd">
<circle cx="400" cy="490" r="167"/><circle cx="640" cy="360" r="207"/><circle cx="900" cy="400" r="167"/><rect x="400" y="400" width="500" height="257"/>
</g>
<g fill="#fdfdfb">
<circle cx="400" cy="490" r="160"/><circle cx="640" cy="360" r="200"/><circle cx="900" cy="400" r="160"/><rect x="400" y="400" width="500" height="250"/>
</g>
<g fill="#414f5f">
<circle cx="560" cy="620" r="155"/><circle cx="800" cy="520" r="235"/><circle cx="1052" cy="580" r="190"/><circle cx="800" cy="670" r="160"/><rect x="560" y="600" width="490" height="170"/>
</g>
<g fill="#cdebff" stroke="#e8e0dc" stroke-width="6">
<path d="M810 503C790 565 715 640 715 702A95 95 0 0 0 905 702C905 640 830 565 810 503Z"/>
<path d="M1015 413C998 468 938 535 938 588A82 82 0 0 0 1102 588C1102 535 1032 468 1015 413Z"/>
</g>
</g>
</defs>
<g fill="none" stroke="#000" stroke-width="4.7" stroke-dasharray="15 14.5" stroke-linejoin="round">
<path d="M664 311L654 327L646 345L633 368L623 393L613 422L604 449L598 480L596.5 510L601 540L608 568L620 595L635 620L655 643L678 660L706 678L734 692L762 704L790 713.5L818 721L846 728L876 734L906 739L925 741L940 740L952 734L976 716L1010 690L1040 669L1063.6 660.4L1092.8 653.2L1120 643.8L1140 622L1153 607"/>
<path d="M1172 626L1169 606L1165.4 592L1162 570L1156 556L1146.5 543L1138 531.6L1130.5 518.4L1138 509L1147 497L1148.4 489L1142.7 480.7L1126.7 473.2L1102 465.6L1085 461L1058 452L1033 440.5L1017 429L1005 424L993 430.5L977 455L969 465.5L958 473L940 475.7L911 475" stroke-dashoffset="6"/>
<path d="M928 291Q900 345 884 387T874 416" stroke-dasharray="16 13"/>
</g>
<rect x="919" y="332" width="249.5" height="63.3" fill="#000"/>
<g fill="none" stroke="#000" stroke-width="8.5" stroke-linecap="round" stroke-linejoin="round">
<path d="M924 390L880 448"/>
<path d="M873.5 429L877.5 451.5L902.5 445"/>
</g>
<text x="923" y="357.4" font-size="28.5" fill="#fff">davantage de pluie</text>
<text x="939.5" y="384.6" font-size="28.5" fill="#fff">que d'habitude</text>
<use href="#ic" transform="translate(730.5 326.5) scale(0.1)"/><use href="#ic" transform="translate(603.5 403.5) scale(0.1)"/><use href="#ic" transform="translate(950.0 450.0) scale(0.1)"/><use href="#ic" transform="translate(840.9 527.7) scale(0.1)"/><use href="#ic" transform="translate(695.7 591.8) scale(0.1)"/><use href="#ic" transform="translate(921.3 636.4) scale(0.1)"/>
</g>

<g id="chrome">
<rect x="1499" y="0" width="1" height="1210" fill="#cfcfcf"/>
<rect x="0" y="1217.6" width="292" height="2.4" fill="#000"/>
<rect x="292" y="1217.6" width="1208" height="2.4" fill="#8c8c8c"/>
<path d="M0 1207A11 11 0 0 0 11 1218L0 1218Z" fill="#000"/>
<path d="M1500 1207A11 11 0 0 1 1489 1218L1500 1218Z" fill="#a5a5a5"/>
</g>
<!-- TITLE -->
<rect x="617" y="0" width="648" height="92" fill="#000"/>
<text x="621.5" y="36" font-size="45.2" fill="#fff">Anomalie des pluies sur 1 mois</text>
<text x="621.5" y="78.4" font-size="45.2" fill="#fff">du 27 octobre au 26 novembre</text>

<text x="1326.5" y="186" font-size="41.6" text-anchor="middle" fill="#000">anomalie</text>
<text x="1324" y="227.5" font-size="41" text-anchor="middle" fill="#000">en %</text>

<!-- LOGO -->
<rect x="1248" y="862" width="122" height="122.5" fill="#051f40"/>
<path d="M1306.8 887.3A16.6 16.6 0 0 0 1306.8 920.5Z" fill="#e08a12"/>
<path d="M1308.6 884.6A20 20 0 0 1 1308.6 924.6Z" fill="#e4e9f4"/>
<text x="1309" y="948" font-size="18.6" font-weight="bold" text-anchor="middle" fill="#fff">METEO-</text>
<text x="1309" y="962" font-size="11.2" font-weight="bold" text-anchor="middle" fill="#fff">VILLES.COM</text>

<!-- HERSHEY TEXT -->
<g id="htext">
<path class="hs" d="M55 19.9L56.2 22.3L57.4 23.5L60.9 24.7L64.4 24.7L67.9 23.5L70.2 21.1L71.4 17.5L71.4 15.1L70.2 11.5L69 10.3L66.7 9.1L63.2 9.1L70.2 -0.5L57.4 -0.5M79 16.3L78.4 13.9L78.4 10.3L79.6 4.9L81.9 0.7L85.4 -0.5L87.8 -0.5L91.3 0.7L93.6 4.3L94.2 7.9L94.8 10.3L94.8 13.9L93.6 19.3L91.3 23.5L87.8 24.7L85.4 24.7L81.9 23.5L79.6 19.9L79 16.3M103 13.9L124 13.9M146.3 -0.5L146.3 11.5M146.3 21.1L146.3 11.5M146.3 21.1L146.3 24.7M146.3 21.1L143.9 23.5L141.6 24.7L138.1 24.7L135.7 23.5L133.4 21.1L132.2 17.5L132.2 15.1L133.4 11.5L135.7 9.1L138.1 7.9L141.6 7.9L143.9 9.1L146.3 11.5M168.5 21.1L168.5 11.5M168.5 21.1L168.5 24.7M168.5 21.1L166.2 23.5L163.8 24.7L160.3 24.7L158 23.5L155.6 21.1L154.5 17.5L154.5 15.1L155.6 11.5L158 9.1L160.3 7.9L163.8 7.9L166.2 9.1L168.5 11.5M168.5 7.9L168.5 11.5M182.5 24.7L180.2 29.5L177.9 31.9L175.5 33.1L174.3 33.1M182.5 24.7L175.5 7.9M182.5 24.7L189.6 7.9M222.1 -0.5L222.1 -0.5M212.7 24.7L222.1 -0.5M222.1 -0.5L231.4 24.7M216.2 16.3L227.9 16.3M250.2 21.1L247.8 23.5L245.5 24.7L242 24.7L239.6 23.5L237.3 21.1L236.1 17.5L236.1 15.1L237.3 11.5L239.6 9.1L242 7.9L245.5 7.9L247.8 9.1L250.2 11.5M271.2 21.1L268.9 23.5L266.5 24.7L263 24.7L260.7 23.5L258.4 21.1L257.2 17.5L257.2 15.1L258.4 11.5L260.7 9.1L263 7.9L266.5 7.9L268.9 9.1L271.2 11.5M292.3 7.9L292.3 19.9M292.3 24.7L292.3 19.9M292.3 19.9L288.8 23.5L286.4 24.7L282.9 24.7L280.6 23.5L279.4 19.9L279.4 7.9M301.6 7.9L301.6 12.7M301.6 24.7L301.6 12.7M314.5 24.7L314.5 12.7M301.6 12.7L305.2 9.1L307.5 7.9L311 7.9L313.3 9.1L314.5 12.7M327.4 24.7L327.4 12.7L326.2 9.1L323.9 7.9L320.4 7.9L318 9.1L314.5 12.7M349.6 7.9L349.6 19.9M349.6 24.7L349.6 19.9M349.6 19.9L346.1 23.5L343.8 24.7L340.3 24.7L337.9 23.5L336.7 19.9L336.7 7.9M359 24.7L359 -0.5M381.2 21.1L381.2 11.5M381.2 21.1L381.2 24.7M381.2 21.1L378.9 23.5L376.5 24.7L373 24.7L370.7 23.5L368.3 21.1L367.2 17.5L367.2 15.1L368.3 11.5L370.7 9.1L373 7.9L376.5 7.9L378.9 9.1L381.2 11.5M381.2 7.9L381.2 11.5M391.7 7.9L391.7 -0.5M391.7 7.9L391.7 19.9L392.9 23.5L395.2 24.7L397.6 24.7M391.7 7.9L388.2 7.9M391.7 7.9L396.4 7.9M417.5 21.1L415.1 23.5L412.8 24.7L409.3 24.7L406.9 23.5L404.6 21.1L403.4 17.5L403.4 15.1M403.4 15.1L404.6 11.5L406.9 9.1L409.3 7.9L412.8 7.9L415.1 9.1L416.3 10.3L417.5 12.1L417.5 12.7L417.5 15.1L403.4 15.1M438.5 -0.5L438.5 11.5M438.5 21.1L438.5 11.5M438.5 21.1L438.5 24.7M438.5 21.1L436.2 23.5L433.9 24.7L430.3 24.7L428 23.5L425.7 21.1L424.5 17.5L424.5 15.1L425.7 11.5L428 9.1L430.3 7.9L433.9 7.9L436.2 9.1L438.5 11.5M467.6 24.7L467.6 12.7M467.6 12.7L467.6 -0.5L478.1 -0.5L480.4 0.7L481.6 0.7L482.8 1.9L483.9 4.3L483.9 7.9L482.8 10.3L481.6 11.5L478.1 12.7L467.6 12.7M492.1 7.9L492.1 14.5M492.1 14.5L492.1 24.7M492.1 14.5L493.3 11.5L495.6 9.1L498 7.9L501.5 7.9M520.2 21.1L517.9 23.5L515.5 24.7L512 24.7L509.7 23.5L507.3 21.1L506.2 17.5L506.2 15.1L507.3 11.5L509.7 9.1L512 7.9L515.5 7.9L517.9 9.1L520.2 11.5M528.4 7.9L528.4 11.5M528.4 21.1L528.4 11.5M528.4 21.1L528.4 33.1M528.4 21.1L530.7 23.5L533.1 24.7L536.6 24.7L538.9 23.5L541.3 21.1L542.4 17.5L542.4 15.1L541.3 11.5L538.9 9.1L536.6 7.9L533.1 7.9L530.7 9.1L528.4 11.5M575 -0.5L575.5 0.1M575 -0.5L572.6 -0.5L570.3 0.7L569.1 3.1L569.1 5.5L571.4 7.9L573.8 7.9L576.1 6.7L577.3 4.3L577.3 1.9L575.5 0.1M575 -0.5L575.5 -0.5M569.1 24.7L589.6 -0.5M575.5 0.1L575.5 -0.5M590.2 -0.5L589.6 -0.5M575.5 -0.5L580.8 1.9L584.3 1.9L589.6 -0.5M590.2 19.9L590.2 18.7L587.8 16.3L585.5 16.3L583.1 17.5L582 19.9L582 21.7L582 22.3L584.3 24.7L586.7 24.7L589 23.5L590.2 21.1L590.2 19.9M80.8 123.5L80.8 117.2M80.8 104.6L80.8 104.6M80.8 117.2L80.8 104.6M80.8 117.2L73.2 117.2L80.8 104.6M80.8 117.2L84.6 117.2M88.7 117.2L88.4 115.4L88.4 112.7L89.1 108.7L90.6 105.5L92.9 104.6L94.4 104.6L96.7 105.5L98.2 108.2L98.6 110.9L99 112.7L99 115.4L98.2 119.5L96.7 122.6L94.4 123.5L92.9 123.5L90.6 122.6L89.1 119.9L88.7 117.2M104.3 123.5L104.3 104.6M104.3 104.6L104.3 104.6M104.3 104.6L115 123.5L115 104.6M73.2 228.8L73.9 230.6L74.7 231.5L77 232.4L79.2 232.4L81.5 231.5L83 229.7L83.8 227L83.8 225.2L83 222.5L82.3 221.6L80.8 220.7L78.5 220.7L83 213.5L74.7 213.5M88.7 226.1L88.4 224.3L88.4 221.6L89.1 217.6L90.6 214.4L92.9 213.5L94.4 213.5L96.7 214.4L98.2 217.1L98.6 219.8L99 221.6L99 224.3L98.2 228.3L96.7 231.5L94.4 232.4L92.9 232.4L90.6 231.5L89.1 228.8L88.7 226.1M104.3 232.4L104.3 213.5M104.3 213.5L104.3 213.5M104.3 213.5L115 232.4L115 213.5M73.9 326.9L73.9 326L74.7 324.2L75.4 323.3L77 322.4L80 322.4L81.5 323.3L82.3 324.2L83 326L83 327.8L80.8 332.3L73.2 341.3L83.8 341.3M88.7 335L88.4 333.2L88.4 330.5L89.1 326.4L90.6 323.3L92.9 322.4L94.4 322.4L96.7 323.3L98.2 326L98.6 328.7L99 330.5L99 333.2L98.2 337.2L96.7 340.4L94.4 341.3L92.9 341.3L90.6 340.4L89.1 337.7L88.7 335M104.3 341.3L104.3 322.4M104.3 322.4L104.3 322.4M104.3 322.4L115 341.3L115 322.4M79.2 450.3L79.2 431.4L77 434.1L75.4 435M88.7 444L88.4 442.2L88.4 439.5L89.1 435.4L90.6 432.3L92.9 431.4L94.4 431.4L96.7 432.3L98.2 435L98.6 437.7L99 439.5L99 442.2L98.2 446.2L96.7 449.4L94.4 450.3L92.9 450.3L90.6 449.4L89.1 446.7L88.7 444M104.3 450.3L104.3 431.4M104.3 431.4L104.3 431.4M104.3 431.4L115 450.3L115 431.4M89.9 549.3L89.9 540.3L99.8 540.3M89.9 549.3L89.9 559.2L99.8 559.2M89.9 549.3L96 549.3M115 561L112.7 558.3M112.7 558.3L110.4 555.6M112.7 558.3L114.2 556.5L115.7 552L115.7 547.5L115 544.8L114.2 543L112.7 541.2L111.2 540.3L108.1 540.3L106.6 541.2L105.1 543L103.6 547.5L103.6 552L104.3 554.7L105.1 556.5L106.6 558.3L108.1 559.2L111.2 559.2L112.7 558.3M80.8 668.1L80.8 649.2L78.5 651.9L77 652.8M90.3 661.8L89.9 660L89.9 657.3L90.6 653.2L92.2 650.1L94.4 649.2L96 649.2L98.2 650.1L99.8 652.8L100.1 655.5L100.5 657.3L100.5 660L99.8 664.1L98.2 667.2L96 668.1L94.4 668.1L92.2 667.2L90.6 664.5L90.3 661.8M105.1 665.4L106.6 667.2L108.9 668.1L111.9 668.1L114.2 667.2L115.7 665.4L115.7 662.7L115 660.9L114.2 660L112.7 659.1L108.1 657.3L106.6 656.4L105.8 655.5L105.1 653.7L105.1 651.9L106.6 650.1L108.9 649.2L111.9 649.2L114.2 650.1L115.7 651.9M75.4 762.7L75.4 761.8L76.2 760L77 759.1L78.5 758.2L81.5 758.2L83 759.1L83.8 760L84.6 761.8L84.6 763.6L82.3 768.1L74.7 777.1L85.3 777.1M90.3 770.8L89.9 769L89.9 766.3L90.6 762.2L92.2 759.1L94.4 758.2L96 758.2L98.2 759.1L99.8 761.8L100.1 764.5L100.5 766.3L100.5 769L99.8 773.1L98.2 776.2L96 777.1L94.4 777.1L92.2 776.2L90.6 773.5L90.3 770.8M105.1 774.4L106.6 776.2L108.9 777.1L111.9 777.1L114.2 776.2L115.7 774.4L115.7 771.7L115 769.9L114.2 769L112.7 768.1L108.1 766.3L106.6 765.4L105.8 764.5L105.1 762.7L105.1 760.9L106.6 759.1L108.9 758.2L111.9 758.2L114.2 759.1L115.7 760.9M74.7 882.4L75.4 884.2L76.2 885.1L78.5 886L80.8 886L83 885.1L84.6 883.3L85.3 880.6L85.3 878.8L84.6 876.1L83.8 875.2L82.3 874.3L80 874.3L84.6 867.1L76.2 867.1M90.3 879.7L89.9 877.9L89.9 875.2L90.6 871.1L92.2 868L94.4 867.1L96 867.1L98.2 868L99.8 870.7L100.1 873.4L100.5 875.2L100.5 877.9L99.8 882L98.2 885.1L96 886L94.4 886L92.2 885.1L90.6 882.4L90.3 879.7M105.1 883.3L106.6 885.1L108.9 886L111.9 886L114.2 885.1L115.7 883.3L115.7 880.6L115 878.8L114.2 877.9L112.7 877L108.1 875.2L106.6 874.3L105.8 873.4L105.1 871.6L105.1 869.8L106.6 868L108.9 867.1L111.9 867.1L114.2 868L115.7 869.8M82.3 994.9L82.3 988.6M82.3 976L82.3 976M82.3 988.6L82.3 976M82.3 988.6L74.7 988.6L82.3 976M82.3 988.6L86.1 988.6M90.3 988.6L89.9 986.8L89.9 984.1L90.6 980L92.2 976.9L94.4 976L96 976L98.2 976.9L99.8 979.6L100.1 982.3L100.5 984.1L100.5 986.8L99.8 990.9L98.2 994L96 994.9L94.4 994.9L92.2 994L90.6 991.3L90.3 988.6M105.1 992.2L106.6 994L108.9 994.9L111.9 994.9L114.2 994L115.7 992.2L115.7 989.5L115 987.7L114.2 986.8L112.7 985.9L108.1 984.1L106.6 983.2L105.8 982.3L105.1 980.5L105.1 978.7L106.6 976.9L108.9 976L111.9 976L114.2 976.9L115.7 978.7M121.5 1018.5L121.5 1011.9M121.5 998.5L121.5 998.5M121.5 1011.9L121.5 998.5M121.5 1011.9L113.9 1011.9L121.5 998.5M121.5 1011.9L125.3 1011.9M129.4 1011.9L129.1 1010L129.1 1007.1L129.8 1002.8L131.3 999.5L133.6 998.5L135.1 998.5L137.4 999.5L138.9 1002.4L139.3 1005.2L139.7 1007.1L139.7 1010L138.9 1014.2L137.4 1017.5L135.1 1018.5L133.6 1018.5L131.3 1017.5L129.8 1014.7L129.4 1011.9M145 1008L145 998.5L154.9 998.5M145 1008L145 1018.5L154.9 1018.5M145 1008L151.1 1008M296.5 1011.4L296.5 1007.1L297.3 1002.8L298.8 999.5L301.1 998.5L302.6 998.5L304.9 999.5L305.6 1001.4M296.5 1011.4L297.3 1015.6L298.8 1017.5L301.1 1018.5L301.8 1018.5L304.1 1017.5L305.6 1015.6L306.4 1013.3L306.4 1011.9L305.6 1009L304.1 1007.1L301.8 1006.1L301.1 1006.1L298.8 1007.1L297.3 1009L296.5 1011.4M311.3 1011.9L311 1010L311 1007.1L311.7 1002.8L313.2 999.5L315.5 998.5L317 998.5L319.3 999.5L320.8 1002.4L321.2 1005.2L321.6 1007.1L321.6 1010L320.8 1014.2L319.3 1017.5L317 1018.5L315.5 1018.5L313.2 1017.5L311.7 1014.7L311.3 1011.9M326.9 1008L326.9 998.5L336.8 998.5M326.9 1008L326.9 1018.5L336.8 1018.5M326.9 1008L333 1008M483 1007.1L483 1007.1M483 1007.1L480.7 1006.1L479.2 1005.2L478.4 1003.3L478.4 1001.4L479.2 999.5L481.5 998.5L484.5 998.5L486.8 999.5L487.5 1001.4L487.5 1003.3L486.8 1005.2L485.3 1006.1L483 1007.1M483 1007.1L479.9 1008L478.4 1010L477.7 1011.9L477.7 1014.7L478.4 1016.6L479.2 1017.5L481.5 1018.5L484.5 1018.5L486.8 1017.5L487.5 1016.6L488.3 1014.7L488.3 1011.9L487.5 1010L486 1008L483 1007.1M493.2 1011.9L492.9 1010L492.9 1007.1L493.6 1002.8L495.1 999.5L497.4 998.5L498.9 998.5L501.2 999.5L502.7 1002.4L503.1 1005.2L503.5 1007.1L503.5 1010L502.7 1014.2L501.2 1017.5L498.9 1018.5L497.4 1018.5L495.1 1017.5L493.6 1014.7L493.2 1011.9M508.8 1008L508.8 998.5L518.7 998.5M508.8 1008L508.8 1018.5L518.7 1018.5M508.8 1008L514.9 1008M658 1018.5L658 998.5L655.8 1001.4L654.2 1002.4M667.5 1011.9L667.2 1010L667.2 1007.1L667.9 1002.8L669.4 999.5L671.7 998.5L673.2 998.5L675.5 999.5L677 1002.4L677.4 1005.2L677.8 1007.1L677.8 1010L677 1014.2L675.5 1017.5L673.2 1018.5L671.7 1018.5L669.4 1017.5L667.9 1014.7L667.5 1011.9M682.7 1011.9L682.4 1010L682.4 1007.1L683.1 1002.8L684.6 999.5L686.9 998.5L688.4 998.5L690.7 999.5L692.2 1002.4L692.6 1005.2L693 1007.1L693 1010L692.2 1014.2L690.7 1017.5L688.4 1018.5L686.9 1018.5L684.6 1017.5L683.1 1014.7L682.7 1011.9M698.3 1008L698.3 998.5L708.2 998.5M698.3 1008L698.3 1018.5L708.2 1018.5M698.3 1008L704.4 1008M840 1018.5L840 998.5L837.8 1001.4L836.2 1002.4M849.9 1003.3L849.9 1002.4L850.7 1000.5L851.4 999.5L853 998.5L856 998.5L857.5 999.5L858.3 1000.5L859 1002.4L859 1004.2L856.8 1009L849.2 1018.5L859.8 1018.5M864.7 1011.9L864.4 1010L864.4 1007.1L865.1 1002.8L866.6 999.5L868.9 998.5L870.4 998.5L872.7 999.5L874.2 1002.4L874.6 1005.2L875 1007.1L875 1010L874.2 1014.2L872.7 1017.5L870.4 1018.5L868.9 1018.5L866.6 1017.5L865.1 1014.7L864.7 1011.9M880.3 1008L880.3 998.5L890.2 998.5M880.3 1008L880.3 1018.5L890.2 1018.5M880.3 1008L886.4 1008M1021.9 1018.5L1021.9 998.5L1019.7 1001.4L1018.1 1002.4M1038.7 1018.5L1038.7 1011.9M1038.7 998.5L1038.7 998.5M1038.7 1011.9L1038.7 998.5M1038.7 1011.9L1031.1 1011.9L1038.7 998.5M1038.7 1011.9L1042.5 1011.9M1046.6 1011.9L1046.3 1010L1046.3 1007.1L1047 1002.8L1048.5 999.5L1050.8 998.5L1052.3 998.5L1054.6 999.5L1056.1 1002.4L1056.5 1005.2L1056.9 1007.1L1056.9 1010L1056.1 1014.2L1054.6 1017.5L1052.3 1018.5L1050.8 1018.5L1048.5 1017.5L1047 1014.7L1046.6 1011.9M1062.2 1008L1062.2 998.5L1072.1 998.5M1062.2 1008L1062.2 1018.5L1072.1 1018.5M1062.2 1008L1068.3 1008M1203.8 1018.5L1203.8 998.5L1201.6 1001.4L1200 1002.4M1213.7 1011.4L1213.7 1007.1L1214.5 1002.8L1216 999.5L1218.3 998.5L1219.8 998.5L1222.1 999.5L1222.8 1001.4M1213.7 1011.4L1214.5 1015.6L1216 1017.5L1218.3 1018.5L1219 1018.5L1221.3 1017.5L1222.8 1015.6L1223.6 1013.3L1223.6 1011.9L1222.8 1009L1221.3 1007.1L1219 1006.1L1218.3 1006.1L1216 1007.1L1214.5 1009L1213.7 1011.4M1228.5 1011.9L1228.2 1010L1228.2 1007.1L1228.9 1002.8L1230.4 999.5L1232.7 998.5L1234.2 998.5L1236.5 999.5L1238 1002.4L1238.4 1005.2L1238.8 1007.1L1238.8 1010L1238 1014.2L1236.5 1017.5L1234.2 1018.5L1232.7 1018.5L1230.4 1017.5L1228.9 1014.7L1228.5 1011.9M1244.1 1008L1244.1 998.5L1254 998.5M1244.1 1008L1244.1 1018.5L1254 1018.5M1244.1 1008L1250.2 1008M1317.2 299.4L1317.2 298.3L1318.2 296.2L1319.2 295.2L1321.3 294.2L1325.5 294.2L1327.6 295.2L1328.6 296.2L1329.6 298.3L1329.6 300.4L1326.5 305.6L1316.1 316L1330.7 316M1349.4 294.2L1339 294.2L1338 303.5L1339 302.5L1342.1 301.4L1345.2 301.4L1348.4 302.5L1350.4 304.6L1351.5 307.7L1351.5 309.8L1350.4 312.9L1348.4 315L1345.2 316L1342.1 316L1339 315L1338 313.9L1336.9 311.8M1358.2 308.7L1357.7 306.6L1357.7 303.5L1358.8 298.8L1360.8 295.2L1364 294.2L1366 294.2L1369.2 295.2L1371.2 298.3L1371.8 301.4L1372.3 303.5L1372.3 306.6L1371.2 311.3L1369.2 315L1366 316L1364 316L1360.8 315L1358.8 311.8L1358.2 308.7M1317.2 347.4L1317.2 346.3L1318.2 344.2L1319.2 343.2L1321.3 342.2L1325.5 342.2L1327.6 343.2L1328.6 344.2L1329.6 346.3L1329.6 348.4L1326.5 353.6L1316.1 364L1330.7 364M1337.4 356.7L1336.9 354.6L1336.9 351.5L1338 346.8L1340 343.2L1343.2 342.2L1345.2 342.2L1348.4 343.2L1350.4 346.3L1351 349.4L1351.5 351.5L1351.5 354.6L1350.4 359.3L1348.4 363L1345.2 364L1343.2 364L1340 363L1338 359.8L1337.4 356.7M1358.2 356.7L1357.7 354.6L1357.7 351.5L1358.8 346.8L1360.8 343.2L1364 342.2L1366 342.2L1369.2 343.2L1371.2 346.3L1371.8 349.4L1372.3 351.5L1372.3 354.6L1371.2 359.3L1369.2 363L1366 364L1364 364L1360.8 363L1358.8 359.8L1358.2 356.7M1324.4 412L1324.4 390.2L1321.3 393.3L1319.2 394.3M1336.9 390.2L1351.5 390.2L1341.1 412M1370.2 390.2L1359.8 390.2L1358.8 399.5L1359.8 398.5L1362.9 397.4L1366 397.4L1369.2 398.5L1371.2 400.6L1372.3 403.7L1372.3 405.8L1371.2 408.9L1369.2 411L1366 412L1362.9 412L1359.8 411L1358.8 409.9L1357.7 407.8M1324.4 460.4L1324.4 438.6L1321.3 441.7L1319.2 442.7M1349.4 438.6L1339 438.6L1338 447.9L1339 446.9L1342.1 445.8L1345.2 445.8L1348.4 446.9L1350.4 449L1351.5 452.1L1351.5 454.2L1350.4 457.3L1348.4 459.4L1345.2 460.4L1342.1 460.4L1339 459.4L1338 458.3L1336.9 456.2M1358.2 453.1L1357.7 451L1357.7 447.9L1358.8 443.2L1360.8 439.6L1364 438.6L1366 438.6L1369.2 439.6L1371.2 442.7L1371.8 445.8L1372.3 447.9L1372.3 451L1371.2 455.7L1369.2 459.4L1366 460.4L1364 460.4L1360.8 459.4L1358.8 456.2L1358.2 453.1M1324.4 510L1324.4 488.2L1321.3 491.3L1319.2 492.3M1338 493.4L1338 492.3L1339 490.2L1340 489.2L1342.1 488.2L1346.3 488.2L1348.4 489.2L1349.4 490.2L1350.4 492.3L1350.4 494.4L1347.3 499.6L1336.9 510L1351.5 510M1370.2 488.2L1359.8 488.2L1358.8 497.5L1359.8 496.5L1362.9 495.4L1366 495.4L1369.2 496.5L1371.2 498.6L1372.3 501.7L1372.3 503.8L1371.2 506.9L1369.2 509L1366 510L1362.9 510L1359.8 509L1358.8 507.9L1357.7 505.8M1316.1 536.2L1330.7 536.2L1320.3 558M1349.4 536.2L1339 536.2L1338 545.5L1339 544.5L1342.1 543.4L1345.2 543.4L1348.4 544.5L1350.4 546.6L1351.5 549.7L1351.5 551.8L1350.4 554.9L1348.4 557L1345.2 558L1342.1 558L1339 557L1338 555.9L1336.9 553.8M1328.6 584.2L1318.2 584.2L1317.2 593.5L1318.2 592.5L1321.3 591.4L1324.4 591.4L1327.6 592.5L1329.6 594.6L1330.7 597.7L1330.7 599.8L1329.6 602.9L1327.6 605L1324.4 606L1321.3 606L1318.2 605L1317.2 603.9L1316.1 601.8M1337.4 598.7L1336.9 596.6L1336.9 593.5L1338 588.8L1340 585.2L1343.2 584.2L1345.2 584.2L1348.4 585.2L1350.4 588.3L1351 591.4L1351.5 593.5L1351.5 596.6L1350.4 601.3L1348.4 605L1345.2 606L1343.2 606L1340 605L1338 601.8L1337.4 598.7M1317.2 637.4L1317.2 636.3L1318.2 634.2L1319.2 633.2L1321.3 632.2L1325.5 632.2L1327.6 633.2L1328.6 634.2L1329.6 636.3L1329.6 638.4L1326.5 643.6L1316.1 654L1330.7 654M1349.4 632.2L1339 632.2L1338 641.5L1339 640.5L1342.1 639.4L1345.2 639.4L1348.4 640.5L1350.4 642.6L1351.5 645.7L1351.5 647.8L1350.4 650.9L1348.4 653L1345.2 654L1342.1 654L1339 653L1338 651.9L1336.9 649.8M1324.4 701.7L1324.4 679.9L1321.3 683L1319.2 684M1349.4 679.9L1339 679.9L1338 689.2L1339 688.2L1342.1 687.1L1345.2 687.1L1348.4 688.2L1350.4 690.3L1351.5 693.4L1351.5 695.5L1350.4 698.6L1348.4 700.7L1345.2 701.7L1342.1 701.7L1339 700.7L1338 699.6L1336.9 697.5M1328.6 727.7L1318.2 727.7L1317.2 737L1318.2 736L1321.3 734.9L1324.4 734.9L1327.6 736L1329.6 738.1L1330.7 741.2L1330.7 743.3L1329.6 746.4L1327.6 748.5L1324.4 749.5L1321.3 749.5L1318.2 748.5L1317.2 747.4L1316.1 745.3M269.7 1114L269.7 1093M269.7 1093L269.7 1093M269.7 1093L286.1 1114L286.1 1093M311.8 1098L310.6 1096L308.3 1094L305.9 1093L301.3 1093L298.9 1094L296.6 1096L294.2 1101L294.2 1106L296.6 1111L298.9 1113L301.3 1114L305.9 1114L308.3 1113L310.6 1111L311.8 1109M320 1103L320 1093L335.2 1093M320 1103L320 1114L335.2 1114M320 1103L329.4 1103M342.2 1114L342.2 1104M342.2 1104L342.2 1093L352.8 1093L355.1 1094L356.3 1094L357.4 1095L358.6 1097L358.6 1100L357.4 1102L356.3 1103L352.8 1104L342.2 1104M402.8 1098L401.7 1096L399.3 1094L397 1093L392.3 1093L390 1094L387.6 1096L385.3 1101L385.3 1106L387.6 1111L390 1113L392.3 1114L397 1114L399.3 1113L401.7 1111L402.8 1109M420.4 1114L420.4 1114M420.4 1114L411 1093.5M420.4 1114L429.7 1093.5M411 1114L411 1093.5M429.7 1093L429.7 1093.5M429.7 1093.5L429.7 1114M411 1093L411 1093.5M444.9 1093L444.9 1093M435.6 1114L444.9 1093M444.9 1093L454.3 1114M439.1 1107L450.8 1107M460.2 1114L460.2 1104M460.2 1104L460.2 1093L470.7 1093L473 1094L474.2 1094L475.4 1095L476.5 1097L476.5 1100L475.4 1102L474.2 1103L470.7 1104L460.2 1104M504.4 1114L504.4 1104M504.4 1104L504.4 1093L514.9 1093L517.3 1094L518.4 1094L519.6 1095L520.8 1097L520.8 1100L519.6 1102L518.4 1103L514.9 1104L504.4 1104M529 1100L529 1105.5M529 1105.5L529 1114M529 1105.5L530.1 1103L532.5 1101L534.8 1100L538.3 1100M557 1111L554.7 1113L552.4 1114L548.8 1114L546.5 1113L544.2 1111L543 1108L543 1106M543 1106L544.2 1103L546.5 1101L548.8 1100L552.4 1100L554.7 1101L555.9 1102L557 1103.5L557 1104L557 1106L543 1106M578.1 1111L575.8 1113L573.4 1114L569.9 1114L567.6 1113L565.2 1111L564.1 1108L564.1 1106L565.2 1103L567.6 1101L569.9 1100L573.4 1100L575.8 1101L578.1 1103M586.3 1100L586.3 1114M585.1 1093L586.3 1092L587.5 1093L586.3 1094L585.1 1093M595.6 1100L595.6 1103M595.6 1111L595.6 1103M595.6 1111L595.6 1121M595.6 1111L598 1113L600.3 1114L603.8 1114L606.2 1113L608.5 1111L609.7 1108L609.7 1106L608.5 1103L606.2 1101L603.8 1100L600.3 1100L598 1101L595.6 1103M617.9 1100L617.9 1114M616.7 1093L617.9 1092L619 1093L617.9 1094L616.7 1093M628.4 1100L628.4 1093M628.4 1100L628.4 1110L629.6 1113L631.9 1114L634.3 1114M628.4 1100L624.9 1100M628.4 1100L633.1 1100M654.1 1111L654.1 1103M654.1 1111L654.1 1114M654.1 1111L651.8 1113L649.5 1114L646 1114L643.6 1113L641.3 1111L640.1 1108L640.1 1106L641.3 1103L643.6 1101L646 1100L649.5 1100L651.8 1101L654.1 1103M654.1 1100L654.1 1103M664.7 1100L664.7 1093M664.7 1100L664.7 1110L665.8 1113L668.2 1114L670.5 1114M664.7 1100L661.2 1100M664.7 1100L669.4 1100M677.5 1100L677.5 1114M676.4 1093L677.5 1092L678.7 1093L677.5 1094L676.4 1093M685.7 1108L685.7 1106L686.9 1103L689.2 1101L691.6 1100L695.1 1100L697.4 1101L699.8 1103L700.9 1106L700.9 1108L699.8 1111L697.4 1113L695.1 1114L691.6 1114L689.2 1113L686.9 1111L685.7 1108M722 1114L722 1104L720.8 1101L718.5 1100L715 1100L712.6 1101L709.1 1104M709.1 1104L709.1 1100M709.1 1104L709.1 1114M286.1 1137L284.9 1135L282.6 1133L280.2 1132L275.5 1132L273.2 1133L270.9 1135L268.5 1140L268.5 1145L270.9 1150L273.2 1152L275.5 1153L280.2 1153L282.6 1152L284.9 1150L286.1 1148M294.2 1153L294.2 1132M303.6 1139L303.6 1153M302.4 1132L303.6 1131L304.8 1132L303.6 1133L302.4 1132M313 1139L313 1143M313 1153L313 1143M325.8 1153L325.8 1143M313 1143L316.5 1140L318.8 1139L322.3 1139L324.7 1140L325.8 1143M338.7 1153L338.7 1143L337.5 1140L335.2 1139L331.7 1139L329.4 1140L325.8 1143M360.9 1150L360.9 1142M360.9 1150L360.9 1153M360.9 1150L358.6 1152L356.3 1153L352.8 1153L350.4 1152L348.1 1150L346.9 1147L346.9 1145L348.1 1142L350.4 1140L352.8 1139L356.3 1139L358.6 1140L360.9 1142M360.9 1139L360.9 1142M371.5 1139L371.5 1132M371.5 1139L371.5 1149L372.6 1152L375 1153L377.3 1153M371.5 1139L368 1139M371.5 1139L376.1 1139M383.2 1147L383.2 1145L384.3 1142L386.7 1140L389 1139L392.5 1139L394.9 1140L397.2 1142L398.4 1145L398.4 1147L397.2 1150L394.9 1152L392.5 1153L389 1153L386.7 1152L384.3 1150L383.2 1147M406.6 1153L406.6 1132M414.8 1147L414.8 1145L415.9 1142L418.3 1140L420.6 1139L424.1 1139L426.5 1140L428.8 1142L430 1145L430 1147L428.8 1150L426.5 1152L424.1 1153L420.6 1153L418.3 1152L415.9 1150L414.8 1147M451 1150L451 1142M451 1150L451 1155L449.9 1158L448.7 1159L446.4 1160L442.8 1160L440.5 1159M451 1150L448.7 1152L446.4 1153L442.8 1153L440.5 1152L438.2 1150L437 1147L437 1145L438.2 1142L440.5 1140L442.8 1139L446.4 1139L448.7 1140L451 1142M451 1139L451 1142M465.1 1153L462.7 1157L460.4 1159L458.1 1160L456.9 1160M465.1 1153L458.1 1139M465.1 1153L472.1 1139M507 1160L504.6 1158L502.3 1155L499.9 1151L498.8 1146L498.8 1142L499.9 1137L502.3 1133L504.6 1130L507 1128M523.3 1153L523.3 1132L519.8 1135L517.5 1136M552.6 1139.5L552.6 1139L551.4 1135L549.1 1133L545.6 1132L544.4 1132L540.9 1133L538.5 1135L537.4 1137.5L537.4 1139L538.5 1142L540.9 1144L544.4 1145L545.6 1145L549.1 1144L551.4 1142L552.6 1139.5M552.6 1139.5L552.6 1144L551.4 1148.5L549.1 1152L545.6 1153L543.2 1153L539.7 1152L538.5 1150M576 1139.5L576 1139L574.8 1135L572.5 1133L569 1132L567.8 1132L564.3 1133L561.9 1135L560.8 1137.5L560.8 1139L561.9 1142L564.3 1144L567.8 1145L569 1145L572.5 1144L574.8 1142L576 1139.5M576 1139.5L576 1144L574.8 1148.5L572.5 1152L569 1153L566.6 1153L563.1 1152L561.9 1150M593.5 1153L593.5 1132L590 1135L587.7 1136M608.7 1144L629.8 1144M639.2 1137L639.2 1136L640.3 1134L641.5 1133L643.8 1132L648.5 1132L650.9 1133L652 1134L653.2 1136L653.2 1138L649.7 1143L638 1153L654.4 1153M662 1146L661.4 1144L661.4 1141L662.6 1136.5L664.9 1133L668.4 1132L670.8 1132L674.3 1133L676.6 1136L677.2 1139L677.8 1141L677.8 1144L676.6 1148.5L674.3 1152L670.8 1153L668.4 1153L664.9 1152L662.6 1149L662 1146M686 1137L686 1136L687.1 1134L688.3 1133L690.6 1132L695.3 1132L697.7 1133L698.8 1134L700 1136L700 1138L696.5 1143L684.8 1153L701.2 1153M708.8 1146L708.2 1144L708.2 1141L709.4 1136.5L711.7 1133L715.2 1132L717.6 1132L721.1 1133L723.4 1136L724 1139L724.6 1141L724.6 1144L723.4 1148.5L721.1 1152L717.6 1153L715.2 1153L711.7 1152L709.4 1149L708.8 1146M731.6 1160L733.9 1158L736.3 1155L738.6 1151L739.8 1146L739.8 1142L738.6 1137L736.3 1133L733.9 1130L731.6 1128M269.7 1209L269.7 1188M269.7 1188L269.7 1188M269.7 1188L286.1 1209L286.1 1188M294.2 1203L294.2 1201L295.4 1198L297.8 1196L300.1 1195L303.6 1195L305.9 1196L308.3 1198L309.5 1201L309.5 1203L308.3 1206L305.9 1208L303.6 1209L300.1 1209L297.8 1208L295.4 1206L294.2 1203M318.8 1195L318.8 1188M318.8 1195L318.8 1205L320 1208L322.3 1209L324.7 1209M318.8 1195L315.3 1195M318.8 1195L323.5 1195M344.6 1206L342.2 1208L339.9 1209L336.4 1209L334 1208L331.7 1206L330.5 1203L330.5 1201M330.5 1201L331.7 1198L334 1196L336.4 1195L339.9 1195L342.2 1196L343.4 1197L344.6 1198.5L344.6 1199L344.6 1201L330.5 1201M354.5 1195.5L353.9 1195L352.8 1196L353.3 1196.5L353.9 1197L355.1 1196L354.5 1195.5M355.1 1208L353.9 1207L352.8 1208L352.8 1208L353.9 1209L355.1 1208L355.1 1208M390 1188L390 1188M380.6 1209L390 1188M390 1188L399.3 1209M384.1 1202L395.8 1202M405.2 1195L405.2 1200.5M405.2 1200.5L405.2 1209M405.2 1200.5L406.3 1198L408.7 1196L411 1195L414.5 1195M433.2 1206L430.9 1208L428.6 1209L425.1 1209L422.7 1208L420.4 1206L419.2 1203L419.2 1201M419.2 1201L420.4 1198L422.7 1196L425.1 1195L428.6 1195L430.9 1196L432.1 1197L433.2 1198.5L433.2 1199L433.2 1201L419.2 1201M454.3 1206L454.3 1198M454.3 1206L454.3 1209M454.3 1206L452 1208L449.6 1209L446.1 1209L443.8 1208L441.4 1206L440.3 1203L440.3 1201L441.4 1198L443.8 1196L446.1 1195L449.6 1195L452 1196L454.3 1198M454.3 1195L454.3 1198M475.4 1198L474.2 1196L470.7 1195L467.2 1195L463.7 1196L462.5 1198L463.7 1200L466 1201L471.9 1202L474.2 1203L475.4 1205L475.4 1206L474.2 1208L470.7 1209L467.2 1209L463.7 1208L462.5 1206M502 1195L506.7 1209M516.1 1209L516.1 1209M516.1 1209L511.4 1195M516.1 1209L520.8 1195M506.7 1209L506.7 1209M511.4 1195L511.4 1195M511.4 1195L506.7 1209M529 1209L529 1199M541.8 1209L541.8 1199L540.7 1196L538.3 1195L534.8 1195L532.5 1196L529 1199M529 1199L529 1188M551.2 1195L551.2 1209M550 1188L551.2 1187L552.4 1188L551.2 1189L550 1188M573.4 1206L571.1 1208L568.7 1209L565.2 1209L562.9 1208L560.5 1206L559.4 1203L559.4 1201L560.5 1198L562.9 1196L565.2 1195L568.7 1195L571.1 1196L573.4 1198M581.6 1209L581.6 1199M594.5 1209L594.5 1199L593.3 1196L591 1195L587.5 1195L585.1 1196L581.6 1199M581.6 1199L581.6 1188M623.5 1195L623.5 1200.5M623.5 1200.5L623.5 1209M623.5 1200.5L624.7 1198L627 1196L629.3 1195L632.8 1195M651.6 1206L649.2 1208L646.9 1209L643.4 1209L641 1208L638.7 1206L637.5 1203L637.5 1201M637.5 1201L638.7 1198L641 1196L643.4 1195L646.9 1195L649.2 1196L650.4 1197L651.6 1198.5L651.6 1199L651.6 1201L637.5 1201M672.6 1206L670.3 1208L667.9 1209L664.4 1209L662.1 1208L659.8 1206L658.6 1203L658.6 1201L659.8 1198L662.1 1196L664.4 1195L667.9 1195L670.3 1196L672.6 1198M693.7 1206L691.3 1208L689 1209L685.5 1209L683.2 1208L680.8 1206L679.6 1203L679.6 1201M679.6 1201L680.8 1198L683.2 1196L685.5 1195L689 1195L691.3 1196L692.5 1197L693.7 1198.5L693.7 1199L693.7 1201L679.6 1201M701.9 1195L701.9 1209M700.7 1188L701.9 1187L703 1188L701.9 1189L700.7 1188M715.9 1209L715.9 1209M715.9 1209L708.9 1195M715.9 1209L722.9 1195M742.8 1206L740.5 1208L738.1 1209L734.6 1209L732.3 1208L730 1206L728.8 1203L728.8 1201M728.8 1201L730 1198L732.3 1196L734.6 1195L738.1 1195L740.5 1196L741.7 1197L742.8 1198.5L742.8 1199L742.8 1201L728.8 1201M769.5 1203L769.5 1201L770.7 1198L773 1196L775.4 1195L778.9 1195L781.2 1196L783.5 1198L784.7 1201L784.7 1203L783.5 1206L781.2 1208L778.9 1209L775.4 1209L773 1208L770.7 1206L769.5 1203M805.8 1209L805.8 1199L804.6 1196L802.3 1195L798.8 1195L796.4 1196L792.9 1199M792.9 1199L792.9 1195M792.9 1199L792.9 1209M847.7 1206L847.7 1198M847.7 1206L847.7 1209M847.7 1206L845.3 1208L843 1209L839.5 1209L837.1 1208L834.8 1206L833.6 1203L833.6 1201L834.8 1198L837.1 1196L839.5 1195L843 1195L845.3 1196L847.7 1198M847.7 1195L847.7 1198M861.7 1209L861.7 1209M861.7 1209L854.7 1195M861.7 1209L868.7 1195M888.6 1206L886.3 1208L883.9 1209L880.4 1209L878.1 1208L875.7 1206L874.6 1203L874.6 1201M874.6 1201L875.7 1198L878.1 1196L880.4 1195L883.9 1195L886.3 1196L887.4 1197L888.6 1198.5L888.6 1199L888.6 1201L874.6 1201M896.8 1195L896.8 1200.5M896.8 1200.5L896.8 1209M896.8 1200.5L898 1198L900.3 1196L902.6 1195L906.2 1195M924.9 1206L924.9 1198M924.9 1206L924.9 1209M924.9 1206L922.5 1208L920.2 1209L916.7 1209L914.3 1208L912 1206L910.8 1203L910.8 1201L912 1198L914.3 1196L916.7 1195L920.2 1195L922.5 1196L924.9 1198M924.9 1195L924.9 1198M947.1 1206L947.1 1198M947.1 1206L947.1 1211L945.9 1214L944.8 1215L942.4 1216L938.9 1216L936.6 1215M947.1 1206L944.8 1208L942.4 1209L938.9 1209L936.6 1208L934.2 1206L933.1 1203L933.1 1201L934.2 1198L936.6 1196L938.9 1195L942.4 1195L944.8 1196L947.1 1198M947.1 1195L947.1 1198M969.3 1206L967 1208L964.7 1209L961.1 1209L958.8 1208L956.5 1206L955.3 1203L955.3 1201M955.3 1201L956.5 1198L958.8 1196L961.1 1195L964.7 1195L967 1196L968.2 1197L969.3 1198.5L969.3 1199L969.3 1201L955.3 1201M1005.4 1209L1005.4 1188L1001.9 1191L999.5 1192M1020.6 1195L1020.6 1199M1020.6 1209L1020.6 1199M1033.5 1209L1033.5 1199M1020.6 1199L1024.1 1196L1026.4 1195L1029.9 1195L1032.3 1196L1033.5 1199M1046.3 1209L1046.3 1199L1045.2 1196L1042.8 1195L1039.3 1195L1037 1196L1033.5 1199M1055.7 1195L1055.7 1199M1055.7 1209L1055.7 1199M1068.6 1209L1068.6 1199M1055.7 1199L1059.2 1196L1061.5 1195L1065 1195L1067.4 1196L1068.6 1199M1081.4 1209L1081.4 1199L1080.3 1196L1077.9 1195L1074.4 1195L1072.1 1196L1068.6 1199M1109.5 1184L1088.4 1216M1129.4 1188L1129.4 1198M1129.4 1206L1129.4 1198M1129.4 1206L1129.4 1209M1129.4 1206L1127.1 1208L1124.7 1209L1121.2 1209L1118.9 1208L1116.5 1206L1115.4 1203L1115.4 1201L1116.5 1198L1118.9 1196L1121.2 1195L1124.7 1195L1127.1 1196L1129.4 1198M1151.6 1206L1151.6 1198M1151.6 1206L1151.6 1209M1151.6 1206L1149.3 1208L1146.9 1209L1143.4 1209L1141.1 1208L1138.8 1206L1137.6 1203L1137.6 1201L1138.8 1198L1141.1 1196L1143.4 1195L1146.9 1195L1149.3 1196L1151.6 1198M1151.6 1195L1151.6 1198M1165.7 1209L1163.3 1213L1161 1215L1158.6 1216L1157.5 1216M1165.7 1209L1158.6 1195M1165.7 1209L1172.7 1195M1212.2 1206L1212.2 1198M1212.2 1206L1212.2 1209M1212.2 1206L1209.9 1208L1207.6 1209L1204 1209L1201.7 1208L1199.4 1206L1198.2 1203L1198.2 1201L1199.4 1198L1201.7 1196L1204 1195L1207.6 1195L1209.9 1196L1212.2 1198M1212.2 1195L1212.2 1198M1221.6 1195L1221.6 1200.5M1221.6 1200.5L1221.6 1209M1221.6 1200.5L1222.8 1198L1225.1 1196L1227.4 1195L1231 1195M1249.7 1206L1247.3 1208L1245 1209L1241.5 1209L1239.1 1208L1236.8 1206L1235.6 1203L1235.6 1201M1235.6 1201L1236.8 1198L1239.1 1196L1241.5 1195L1245 1195L1247.3 1196L1248.5 1197L1249.7 1198.5L1249.7 1199L1249.7 1201L1235.6 1201M1277.5 1195L1277.5 1199M1277.5 1209L1277.5 1199M1290.4 1209L1290.4 1199M1277.5 1199L1281 1196L1283.4 1195L1286.9 1195L1289.2 1196L1290.4 1199M1303.3 1209L1303.3 1199L1302.1 1196L1299.7 1195L1296.2 1195L1293.9 1196L1290.4 1199M1325.5 1206L1325.5 1198M1325.5 1206L1325.5 1209M1325.5 1206L1323.1 1208L1320.8 1209L1317.3 1209L1315 1208L1312.6 1206L1311.4 1203L1311.4 1201L1312.6 1198L1315 1196L1317.3 1195L1320.8 1195L1323.1 1196L1325.5 1198M1325.5 1195L1325.5 1198M1346.5 1198L1345.4 1196L1341.9 1195L1338.4 1195L1334.8 1196L1333.7 1198L1334.8 1200L1337.2 1201L1343 1202L1345.4 1203L1346.5 1205L1346.5 1206L1345.4 1208L1341.9 1209L1338.4 1209L1334.8 1208L1333.7 1206M1359.4 1201L1366.4 1195M1359.4 1201L1354.7 1205M1359.4 1201L1367.6 1209M1354.7 1205L1354.7 1188M1354.7 1205L1354.7 1209M1387.5 1206L1385.2 1208L1382.8 1209L1379.3 1209L1377 1208L1374.6 1206L1373.5 1203L1373.5 1201M1373.5 1201L1374.6 1198L1377 1196L1379.3 1195L1382.8 1195L1385.2 1196L1386.3 1197L1387.5 1198.5L1387.5 1199L1387.5 1201L1373.5 1201M1408.6 1188L1408.6 1198M1408.6 1206L1408.6 1198M1408.6 1206L1408.6 1209M1408.6 1206L1406.2 1208L1403.9 1209L1400.4 1209L1398 1208L1395.7 1206L1394.5 1203L1394.5 1201L1395.7 1198L1398 1196L1400.4 1195L1403.9 1195L1406.2 1196L1408.6 1198M1436.4 1203L1436.4 1201L1437.6 1198L1439.9 1196L1442.3 1195L1445.8 1195L1448.1 1196L1450.4 1198L1451.6 1201L1451.6 1203L1450.4 1206L1448.1 1208L1445.8 1209L1442.3 1209L1439.9 1208L1437.6 1206L1436.4 1203M1472.7 1195L1472.7 1205M1472.7 1209L1472.7 1205M1472.7 1205L1469.2 1208L1466.8 1209L1463.3 1209L1461 1208L1459.8 1205L1459.8 1195M1483.2 1195L1483.2 1188M1483.2 1195L1483.2 1205L1484.4 1208L1486.7 1209L1489.1 1209M1483.2 1195L1479.7 1195M1483.2 1195L1487.9 1195M1498.4 1208L1497.2 1207L1496.1 1208L1496.1 1208L1497.2 1209L1498.4 1208L1498.4 1208"/>
<path class="hs" style="stroke:#f33" d="M-5.9 1093L2.3 1093L5.8 1094L8.1 1096L9.3 1098L10.4 1101L10.4 1106L8.1 1111L5.8 1113L4.6 1113.5L2.3 1114L-5.9 1114L-5.9 1093M31.5 1111L31.5 1103M31.5 1111L31.5 1114M31.5 1111L29.2 1113L26.8 1114L23.3 1114L21 1113L18.6 1111L17.5 1108L17.5 1106L18.6 1103L21 1101L23.3 1100L26.8 1100L29.2 1101L31.5 1103M31.5 1100L31.5 1103M42 1100L42 1093M42 1100L42 1110L43.2 1113L45.5 1114L47.9 1114M42 1100L38.5 1100M42 1100L46.7 1100M67.8 1111L67.8 1103M67.8 1111L67.8 1114M67.8 1111L65.4 1113L63.1 1114L59.6 1114L57.2 1113L54.9 1111L53.7 1108L53.7 1106L54.9 1103L57.2 1101L59.6 1100L63.1 1100L65.4 1101L67.8 1103M67.8 1100L67.8 1103M95.6 1111L98 1113L101.5 1114L106.2 1114L109.7 1113L112 1111L112 1108L110.8 1106L109.7 1105L107.3 1104L100.3 1102L98 1101L96.8 1100L95.6 1098L95.6 1096L98 1094L101.5 1093L106.2 1093L109.7 1094L112 1096M119 1108L119 1106L120.2 1103L122.5 1101L124.9 1100L128.4 1100L130.7 1101L133.1 1103L134.2 1106L134.2 1108L133.1 1111L130.7 1113L128.4 1114L124.9 1114L122.5 1113L120.2 1111L119 1108M155.3 1100L155.3 1110M155.3 1114L155.3 1110M155.3 1110L151.8 1113L149.4 1114L145.9 1114L143.6 1113L142.4 1110L142.4 1100M164.7 1100L164.7 1105.5M164.7 1105.5L164.7 1114M164.7 1105.5L165.8 1103L168.2 1101L170.5 1100L174 1100M192.7 1111L190.4 1113L188.1 1114L184.5 1114L182.2 1113L179.9 1111L178.7 1108L178.7 1106L179.9 1103L182.2 1101L184.5 1100L188.1 1100L190.4 1101L192.7 1103M213.8 1111L211.5 1113L209.1 1114L205.6 1114L203.3 1113L200.9 1111L199.8 1108L199.8 1106M199.8 1106L200.9 1103L203.3 1101L205.6 1100L209.1 1100L211.5 1101L212.6 1102L213.8 1103.5L213.8 1104L213.8 1106L199.8 1106M223.7 1100.5L223.2 1100L222 1101L222.6 1101.5L223.2 1102L224.3 1101L223.7 1100.5M224.3 1113L223.2 1112L222 1113L222 1113L223.2 1114L224.3 1113L224.3 1113"/>
</g>
<rect x="0" y="0" width="617" height="1.7" fill="#d2d2d2"/><rect x="1265" y="0" width="235" height="1.7" fill="#d2d2d2"/>
</svg>
</body>
</html>
